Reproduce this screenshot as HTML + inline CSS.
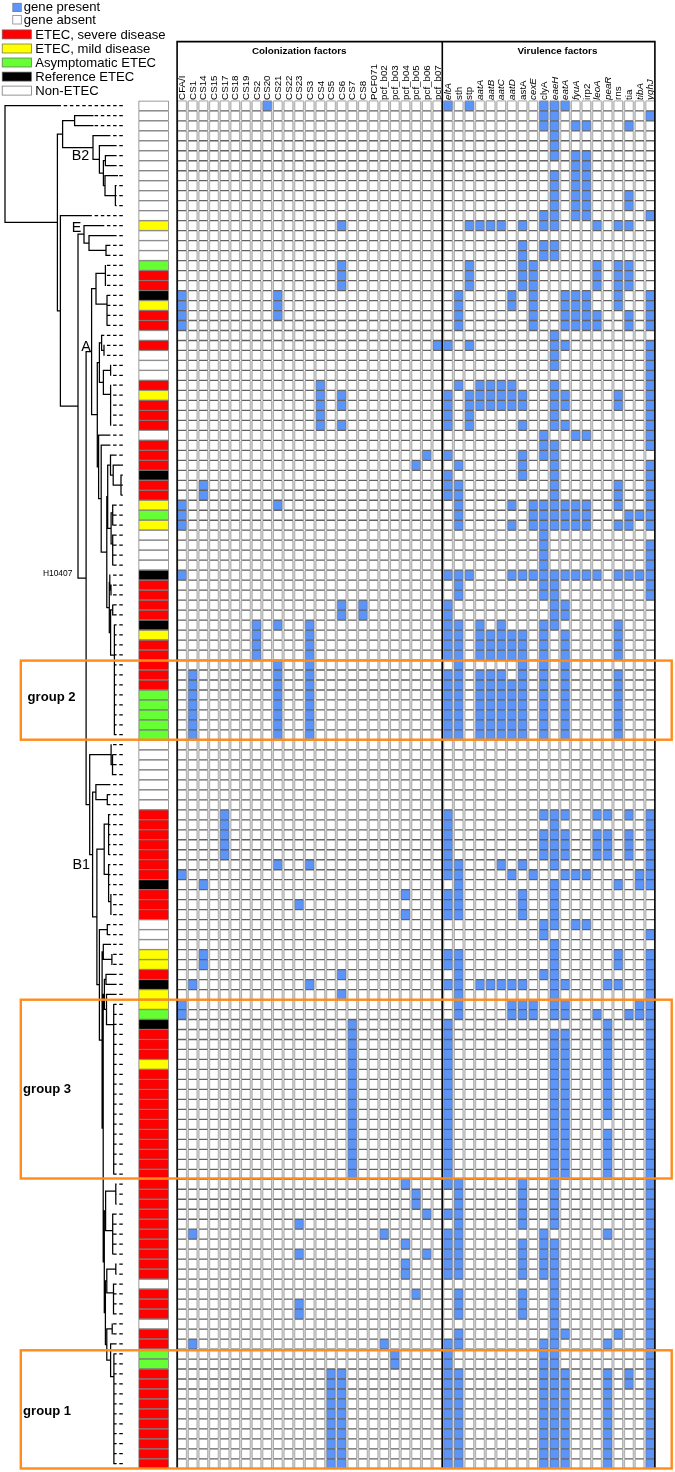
<!DOCTYPE html><html><head><meta charset="utf-8"><title>figure</title><style>html,body{margin:0;padding:0;background:#fff}svg{display:block}text{font-family:"Liberation Sans",sans-serif;fill:#000}</style></head><body>
<svg width="675" height="1472" viewBox="0 0 675 1472">
<rect width="675" height="1472" fill="#fff"/>
<rect x="12.8" y="3.2" width="8.5" height="8.5" fill="#5c95fa" stroke="#667" stroke-width="0.6"/>
<rect x="12.8" y="15.5" width="8.5" height="8.5" fill="#fff" stroke="#777" stroke-width="0.7"/>
<text x="23.8" y="11.2" font-size="13.1">gene present</text>
<text x="23.8" y="23.6" font-size="13.1">gene absent</text>
<rect x="2.2" y="29.9" width="29.2" height="9" fill="#ff0000" stroke="#666" stroke-width="0.7"/>
<text x="35.3" y="38.9" font-size="13.1">ETEC, severe disease</text>
<rect x="2.2" y="44.0" width="29.2" height="9" fill="#ffff00" stroke="#666" stroke-width="0.7"/>
<text x="35.3" y="53.0" font-size="13.1">ETEC, mild disease</text>
<rect x="2.2" y="58.0" width="29.2" height="9" fill="#66ff33" stroke="#666" stroke-width="0.7"/>
<text x="35.3" y="67.0" font-size="13.1">Asymptomatic ETEC</text>
<rect x="2.2" y="72.1" width="29.2" height="9" fill="#000000" stroke="#666" stroke-width="0.7"/>
<text x="35.3" y="81.1" font-size="13.1">Reference ETEC</text>
<rect x="2.2" y="86.1" width="29.2" height="9" fill="#ffffff" stroke="#666" stroke-width="0.7"/>
<text x="35.3" y="95.1" font-size="13.1">Non-ETEC</text>
<path d="M4.5 105.7H60.3M74.1 115.6H93.5M74.1 125.6H93.5M74.6 115.1V126.1M62.1 120.6H74.6M92.5 135.6H109.8M98.9 145.6H115.0M104.9 155.6H114.0M104.9 165.6H114.0M105.4 155.1V166.1M102.9 160.6H105.4M104.5 175.5H118.0M115.4 185.0V206.0M104.5 195.5H115.4M105.0 175.0V196.0M102.9 185.5H105.0M103.4 160.1V186.0M98.9 173.1H103.4M99.4 145.1V173.6M92.5 159.3H99.4M93.0 135.1V159.8M62.1 147.5H93.0M62.6 120.1V148.0M56.9 134.0H62.6M59.9 215.5H91.0M83.5 225.5H103.0M88.5 235.5H116.0M105.5 245.4H109.0M105.5 255.4H109.0M106.0 244.9V255.9M88.5 250.4H106.0M89.0 235.0V250.9M83.5 243.0H89.0M84.0 225.0V243.5M77.5 234.2H84.0M105.4 264.9V285.9M95.5 273.3H105.4M107.0 294.9V325.8M95.5 304.0H107.0M96.0 272.8V304.5M91.1 288.6H96.0M104.0 344.8V355.8M101.1 350.3H104.0M101.6 334.8V350.8M98.9 342.8H101.6M110.6 364.8V375.8M102.9 370.3H110.6M110.6 384.7V425.7M102.9 394.4H110.6M103.4 369.8V394.9M98.9 382.3H103.4M99.4 342.3V382.8M96.8 362.6H99.4M98.1 435.2H109.7M100.7 445.2H109.7M110.0 455.1H116.3M112.7 465.1H123.0M121.0 474.6V495.6M112.7 485.1H121.0M113.2 464.6V485.6M110.0 475.1H113.2M110.5 454.6V475.6M107.2 465.1H110.5M112.7 504.6V525.5M110.6 512.8H112.7M112.7 534.5V565.5M110.6 543.9H112.7M111.1 512.3V544.4M107.2 528.3H111.1M107.7 464.6V528.8M106.3 496.7H107.7M111.0 584.5V595.4M109.3 590.0H111.0M109.8 574.5V590.5M108.8 582.5H109.8M112.7 604.4V615.4M110.1 609.9H112.7M114.4 624.4V735.2M110.1 655.2H114.4M110.6 609.4V655.7M108.8 632.6H110.6M109.3 582.0V633.1M106.3 607.5H109.3M106.8 496.2V608.0M100.7 552.1H106.8M101.2 444.7V552.6M98.1 498.6H101.2M98.6 434.7V499.1M96.8 466.9H98.6M97.3 362.1V467.4M91.1 414.7H97.3M91.6 288.1V415.2M85.6 351.7H91.6M112.5 754.2V775.2M110.6 764.7H112.5M111.1 744.2V765.2M89.2 754.7H111.1M95.4 784.7H109.6M107.3 794.2V805.1M95.4 799.7H107.3M95.9 784.2V800.2M92.1 792.2H95.9M108.6 814.1V855.1M103.7 824.0H108.6M110.9 894.0V915.0M108.1 901.5H110.9M108.6 864.1V902.0M103.7 874.3H108.6M104.2 823.5V874.8M96.4 849.1H104.2M107.3 924.0V935.0M98.9 929.5H107.3M102.8 944.4H111.1M111.9 953.9V964.9M102.8 959.4H111.9M103.3 943.9V959.9M101.6 951.9H103.3M105.5 974.4H115.8M105.5 984.4H115.8M106.0 973.9V984.9M103.9 979.4H106.0M106.0 994.4H115.8M113.7 1003.9V1174.6M106.0 1024.5H113.7M106.5 993.9V1025.0M103.9 1009.4H106.5M104.4 978.9V1009.9M102.7 994.4H104.4M115.8 1183.6V1204.6M105.1 1191.1H115.8M112.7 1213.6V1254.5M105.1 1230.5H112.7M105.6 1190.6V1231.0M103.8 1210.8H105.6M115.8 1263.5V1274.5M106.3 1269.0H115.8M113.5 1283.5V1314.4M106.3 1292.8H113.5M106.8 1268.5V1293.3M104.9 1280.9H106.8M112.2 1323.4V1334.4M106.3 1328.9H112.2M110.1 1343.9H115.8M113.9 1353.4V1464.2M110.1 1376.5H113.9M110.6 1343.4V1377.0M106.3 1360.2H110.6M106.8 1328.4V1360.7M104.9 1344.5H106.8M105.4 1280.4V1345.0M103.8 1312.7H105.4M104.3 1210.3V1313.2M102.7 1261.8H104.3M103.2 993.9V1262.3M101.6 1128.1H103.2M102.1 951.4V1128.6M98.9 1040.0H102.1M99.4 929.0V1040.5M96.4 984.7H99.4M96.9 848.6V985.2M92.1 916.9H96.9M92.6 791.7V917.4M89.2 854.6H92.6M89.7 754.2V855.1M85.6 804.6H89.7M86.1 351.2V805.1M77.5 578.2H86.1M78.0 233.7V578.7M59.9 406.2H78.0M60.4 215.0V406.7M56.9 310.8H60.4M57.4 133.5V311.3M4.5 222.4H57.4M5.0 105.2V222.9M119.3 105.7H122.8M113.1 105.7H116.6M106.9 105.7H110.4M100.8 105.7H104.3M94.6 105.7H98.1M88.4 105.7H91.9M82.2 105.7H85.7M76.0 105.7H79.5M69.9 105.7H73.4M63.7 105.7H67.2M60.3 105.7H61.0M119.3 115.6H122.8M113.1 115.6H116.6M106.9 115.6H110.4M100.8 115.6H104.3M94.6 115.6H98.1M119.3 125.6H122.8M113.1 125.6H116.6M106.9 125.6H110.4M100.8 125.6H104.3M94.6 125.6H98.1M119.3 135.6H122.8M113.1 135.6H116.6M109.8 135.6H110.4M119.3 145.6H122.8M115.0 145.6H116.6M119.3 155.6H122.8M114.0 155.6H116.6M119.3 165.6H122.8M114.0 165.6H116.6M119.3 175.5H122.8M119.3 185.5H122.8M115.4 185.5H116.6M119.3 195.5H122.8M115.4 195.5H116.6M119.3 205.5H122.8M115.4 205.5H116.6M119.3 215.5H122.8M113.1 215.5H116.6M106.9 215.5H110.4M100.8 215.5H104.3M94.6 215.5H98.1M91.0 215.5H91.9M119.3 225.5H122.8M113.1 225.5H116.6M106.9 225.5H110.4M103.0 225.5H104.3M119.3 235.5H122.8M116.0 235.5H116.6M119.3 245.4H122.8M113.1 245.4H116.6M109.0 245.4H110.4M119.3 255.4H122.8M113.1 255.4H116.6M109.0 255.4H110.4M119.3 265.4H122.8M113.1 265.4H116.6M106.9 265.4H110.4M119.3 275.4H122.8M113.1 275.4H116.6M106.9 275.4H110.4M119.3 285.4H122.8M113.1 285.4H116.6M106.9 285.4H110.4M119.3 295.4H122.8M113.1 295.4H116.6M107.0 295.4H110.4M119.3 305.4H122.8M113.1 305.4H116.6M107.0 305.4H110.4M119.3 315.3H122.8M113.1 315.3H116.6M107.0 315.3H110.4M119.3 325.3H122.8M113.1 325.3H116.6M107.0 325.3H110.4M119.3 335.3H122.8M113.1 335.3H116.6M106.9 335.3H110.4M101.6 335.3H104.3M119.3 345.3H122.8M113.1 345.3H116.6M106.9 345.3H110.4M119.3 355.3H122.8M113.1 355.3H116.6M106.9 355.3H110.4M119.3 365.3H122.8M113.1 365.3H116.6M119.3 375.3H122.8M113.1 375.3H116.6M119.3 385.2H122.8M113.1 385.2H116.6M119.3 395.2H122.8M113.1 395.2H116.6M119.3 405.2H122.8M113.1 405.2H116.6M119.3 415.2H122.8M113.1 415.2H116.6M119.3 425.2H122.8M113.1 425.2H116.6M119.3 435.2H122.8M113.1 435.2H116.6M109.7 435.2H110.4M119.3 445.2H122.8M113.1 445.2H116.6M109.7 445.2H110.4M119.3 455.1H122.8M116.3 455.1H116.6M121.0 475.1H122.8M121.0 485.1H122.8M121.0 495.1H122.8M119.3 505.1H122.8M113.1 505.1H116.6M119.3 515.1H122.8M113.1 515.1H116.6M119.3 525.0H122.8M113.1 525.0H116.6M119.3 535.0H122.8M113.1 535.0H116.6M119.3 545.0H122.8M113.1 545.0H116.6M119.3 555.0H122.8M113.1 555.0H116.6M119.3 565.0H122.8M113.1 565.0H116.6M119.3 575.0H122.8M113.1 575.0H116.6M109.8 575.0H110.4M119.3 585.0H122.8M113.1 585.0H116.6M119.3 594.9H122.8M113.1 594.9H116.6M119.3 604.9H122.8M113.1 604.9H116.6M119.3 614.9H122.8M113.1 614.9H116.6M119.3 624.9H122.8M114.4 624.9H116.6M119.3 634.9H122.8M114.4 634.9H116.6M119.3 644.9H122.8M114.4 644.9H116.6M119.3 654.9H122.8M114.4 654.9H116.6M119.3 664.8H122.8M114.4 664.8H116.6M119.3 674.8H122.8M114.4 674.8H116.6M119.3 684.8H122.8M114.4 684.8H116.6M119.3 694.8H122.8M114.4 694.8H116.6M119.3 704.8H122.8M114.4 704.8H116.6M119.3 714.8H122.8M114.4 714.8H116.6M119.3 724.8H122.8M114.4 724.8H116.6M119.3 734.7H122.8M114.4 734.7H116.6M119.3 744.7H122.8M113.1 744.7H116.6M119.3 754.7H122.8M113.1 754.7H116.6M119.3 764.7H122.8M113.1 764.7H116.6M119.3 774.7H122.8M113.1 774.7H116.6M119.3 784.7H122.8M113.1 784.7H116.6M109.6 784.7H110.4M119.3 794.7H122.8M113.1 794.7H116.6M107.3 794.7H110.4M119.3 804.6H122.8M113.1 804.6H116.6M107.3 804.6H110.4M119.3 814.6H122.8M113.1 814.6H116.6M108.6 814.6H110.4M119.3 824.6H122.8M113.1 824.6H116.6M108.6 824.6H110.4M119.3 834.6H122.8M113.1 834.6H116.6M108.6 834.6H110.4M119.3 844.6H122.8M113.1 844.6H116.6M108.6 844.6H110.4M119.3 854.6H122.8M113.1 854.6H116.6M108.6 854.6H110.4M119.3 864.6H122.8M113.1 864.6H116.6M108.6 864.6H110.4M119.3 874.5H122.8M113.1 874.5H116.6M108.6 874.5H110.4M119.3 884.5H122.8M113.1 884.5H116.6M108.6 884.5H110.4M119.3 894.5H122.8M113.1 894.5H116.6M119.3 904.5H122.8M113.1 904.5H116.6M119.3 914.5H122.8M113.1 914.5H116.6M119.3 924.5H122.8M113.1 924.5H116.6M107.3 924.5H110.4M119.3 934.5H122.8M113.1 934.5H116.6M107.3 934.5H110.4M119.3 944.4H122.8M113.1 944.4H116.6M119.3 954.4H122.8M113.1 954.4H116.6M119.3 964.4H122.8M113.1 964.4H116.6M119.3 974.4H122.8M115.8 974.4H116.6M119.3 984.4H122.8M115.8 984.4H116.6M119.3 994.4H122.8M115.8 994.4H116.6M119.3 1004.4H122.8M113.7 1004.4H116.6M119.3 1014.3H122.8M113.7 1014.3H116.6M119.3 1024.3H122.8M113.7 1024.3H116.6M119.3 1034.3H122.8M113.7 1034.3H116.6M119.3 1044.3H122.8M113.7 1044.3H116.6M119.3 1054.3H122.8M113.7 1054.3H116.6M119.3 1064.3H122.8M113.7 1064.3H116.6M119.3 1074.3H122.8M113.7 1074.3H116.6M119.3 1084.2H122.8M113.7 1084.2H116.6M119.3 1094.2H122.8M113.7 1094.2H116.6M119.3 1104.2H122.8M113.7 1104.2H116.6M119.3 1114.2H122.8M113.7 1114.2H116.6M119.3 1124.2H122.8M113.7 1124.2H116.6M119.3 1134.2H122.8M113.7 1134.2H116.6M119.3 1144.2H122.8M113.7 1144.2H116.6M119.3 1154.1H122.8M113.7 1154.1H116.6M119.3 1164.1H122.8M113.7 1164.1H116.6M119.3 1174.1H122.8M113.7 1174.1H116.6M119.3 1184.1H122.8M115.8 1184.1H116.6M119.3 1194.1H122.8M115.8 1194.1H116.6M119.3 1204.1H122.8M115.8 1204.1H116.6M119.3 1214.1H122.8M113.1 1214.1H116.6M119.3 1224.0H122.8M113.1 1224.0H116.6M119.3 1234.0H122.8M113.1 1234.0H116.6M119.3 1244.0H122.8M113.1 1244.0H116.6M119.3 1254.0H122.8M113.1 1254.0H116.6M119.3 1264.0H122.8M115.8 1264.0H116.6M119.3 1274.0H122.8M115.8 1274.0H116.6M119.3 1284.0H122.8M113.5 1284.0H116.6M119.3 1293.9H122.8M113.5 1293.9H116.6M119.3 1303.9H122.8M113.5 1303.9H116.6M119.3 1313.9H122.8M113.5 1313.9H116.6M119.3 1323.9H122.8M113.1 1323.9H116.6M119.3 1333.9H122.8M113.1 1333.9H116.6M119.3 1343.9H122.8M115.8 1343.9H116.6M119.3 1353.9H122.8M113.9 1353.9H116.6M119.3 1363.8H122.8M113.9 1363.8H116.6M119.3 1373.8H122.8M113.9 1373.8H116.6M119.3 1383.8H122.8M113.9 1383.8H116.6M119.3 1393.8H122.8M113.9 1393.8H116.6M119.3 1403.8H122.8M113.9 1403.8H116.6M119.3 1413.8H122.8M113.9 1413.8H116.6M119.3 1423.8H122.8M113.9 1423.8H116.6M119.3 1433.7H122.8M113.9 1433.7H116.6M119.3 1443.7H122.8M113.9 1443.7H116.6M119.3 1453.7H122.8M113.9 1453.7H116.6M119.3 1463.7H122.8M113.9 1463.7H116.6" fill="none" stroke="#000" stroke-width="1.25"/>
<rect x="138.9" y="101.10" width="29.5" height="9.35" fill="#ffffff" stroke="#666" stroke-width="0.65"/>
<rect x="138.9" y="111.09" width="29.5" height="9.35" fill="#ffffff" stroke="#666" stroke-width="0.65"/>
<rect x="138.9" y="121.07" width="29.5" height="9.35" fill="#ffffff" stroke="#666" stroke-width="0.65"/>
<rect x="138.9" y="131.06" width="29.5" height="9.35" fill="#ffffff" stroke="#666" stroke-width="0.65"/>
<rect x="138.9" y="141.04" width="29.5" height="9.35" fill="#ffffff" stroke="#666" stroke-width="0.65"/>
<rect x="138.9" y="151.03" width="29.5" height="9.35" fill="#ffffff" stroke="#666" stroke-width="0.65"/>
<rect x="138.9" y="161.01" width="29.5" height="9.35" fill="#ffffff" stroke="#666" stroke-width="0.65"/>
<rect x="138.9" y="171.00" width="29.5" height="9.35" fill="#ffffff" stroke="#666" stroke-width="0.65"/>
<rect x="138.9" y="180.99" width="29.5" height="9.35" fill="#ffffff" stroke="#666" stroke-width="0.65"/>
<rect x="138.9" y="190.97" width="29.5" height="9.35" fill="#ffffff" stroke="#666" stroke-width="0.65"/>
<rect x="138.9" y="200.96" width="29.5" height="9.35" fill="#ffffff" stroke="#666" stroke-width="0.65"/>
<rect x="138.9" y="210.94" width="29.5" height="9.35" fill="#ffffff" stroke="#666" stroke-width="0.65"/>
<rect x="138.9" y="220.93" width="29.5" height="9.35" fill="#ffff00" stroke="#666" stroke-width="0.65"/>
<rect x="138.9" y="230.91" width="29.5" height="9.35" fill="#ffffff" stroke="#666" stroke-width="0.65"/>
<rect x="138.9" y="240.90" width="29.5" height="9.35" fill="#ffffff" stroke="#666" stroke-width="0.65"/>
<rect x="138.9" y="250.89" width="29.5" height="9.35" fill="#ffffff" stroke="#666" stroke-width="0.65"/>
<rect x="138.9" y="260.87" width="29.5" height="9.35" fill="#66ff33" stroke="#666" stroke-width="0.65"/>
<rect x="138.9" y="270.86" width="29.5" height="9.35" fill="#ff0000" stroke="#666" stroke-width="0.65"/>
<rect x="138.9" y="280.84" width="29.5" height="9.35" fill="#ff0000" stroke="#666" stroke-width="0.65"/>
<rect x="138.9" y="290.83" width="29.5" height="9.35" fill="#000000" stroke="#666" stroke-width="0.65"/>
<rect x="138.9" y="300.81" width="29.5" height="9.35" fill="#ffff00" stroke="#666" stroke-width="0.65"/>
<rect x="138.9" y="310.80" width="29.5" height="9.35" fill="#ff0000" stroke="#666" stroke-width="0.65"/>
<rect x="138.9" y="320.79" width="29.5" height="9.35" fill="#ff0000" stroke="#666" stroke-width="0.65"/>
<rect x="138.9" y="330.77" width="29.5" height="9.35" fill="#ffffff" stroke="#666" stroke-width="0.65"/>
<rect x="138.9" y="340.76" width="29.5" height="9.35" fill="#ff0000" stroke="#666" stroke-width="0.65"/>
<rect x="138.9" y="350.74" width="29.5" height="9.35" fill="#ffffff" stroke="#666" stroke-width="0.65"/>
<rect x="138.9" y="360.73" width="29.5" height="9.35" fill="#ffffff" stroke="#666" stroke-width="0.65"/>
<rect x="138.9" y="370.71" width="29.5" height="9.35" fill="#ffffff" stroke="#666" stroke-width="0.65"/>
<rect x="138.9" y="380.70" width="29.5" height="9.35" fill="#ff0000" stroke="#666" stroke-width="0.65"/>
<rect x="138.9" y="390.69" width="29.5" height="9.35" fill="#ffff00" stroke="#666" stroke-width="0.65"/>
<rect x="138.9" y="400.67" width="29.5" height="9.35" fill="#ff0000" stroke="#666" stroke-width="0.65"/>
<rect x="138.9" y="410.66" width="29.5" height="9.35" fill="#ff0000" stroke="#666" stroke-width="0.65"/>
<rect x="138.9" y="420.64" width="29.5" height="9.35" fill="#ff0000" stroke="#666" stroke-width="0.65"/>
<rect x="138.9" y="430.63" width="29.5" height="9.35" fill="#ffffff" stroke="#666" stroke-width="0.65"/>
<rect x="138.9" y="440.61" width="29.5" height="9.35" fill="#ff0000" stroke="#666" stroke-width="0.65"/>
<rect x="138.9" y="450.60" width="29.5" height="9.35" fill="#ff0000" stroke="#666" stroke-width="0.65"/>
<rect x="138.9" y="460.59" width="29.5" height="9.35" fill="#ff0000" stroke="#666" stroke-width="0.65"/>
<rect x="138.9" y="470.57" width="29.5" height="9.35" fill="#000000" stroke="#666" stroke-width="0.65"/>
<rect x="138.9" y="480.56" width="29.5" height="9.35" fill="#ff0000" stroke="#666" stroke-width="0.65"/>
<rect x="138.9" y="490.54" width="29.5" height="9.35" fill="#ff0000" stroke="#666" stroke-width="0.65"/>
<rect x="138.9" y="500.53" width="29.5" height="9.35" fill="#ffff00" stroke="#666" stroke-width="0.65"/>
<rect x="138.9" y="510.51" width="29.5" height="9.35" fill="#66ff33" stroke="#666" stroke-width="0.65"/>
<rect x="138.9" y="520.50" width="29.5" height="9.35" fill="#ffff00" stroke="#666" stroke-width="0.65"/>
<rect x="138.9" y="530.49" width="29.5" height="9.35" fill="#ffffff" stroke="#666" stroke-width="0.65"/>
<rect x="138.9" y="540.47" width="29.5" height="9.35" fill="#ffffff" stroke="#666" stroke-width="0.65"/>
<rect x="138.9" y="550.46" width="29.5" height="9.35" fill="#ffffff" stroke="#666" stroke-width="0.65"/>
<rect x="138.9" y="560.44" width="29.5" height="9.35" fill="#ffffff" stroke="#666" stroke-width="0.65"/>
<rect x="138.9" y="570.43" width="29.5" height="9.35" fill="#000000" stroke="#666" stroke-width="0.65"/>
<rect x="138.9" y="580.41" width="29.5" height="9.35" fill="#ff0000" stroke="#666" stroke-width="0.65"/>
<rect x="138.9" y="590.40" width="29.5" height="9.35" fill="#ff0000" stroke="#666" stroke-width="0.65"/>
<rect x="138.9" y="600.38" width="29.5" height="9.35" fill="#ff0000" stroke="#666" stroke-width="0.65"/>
<rect x="138.9" y="610.37" width="29.5" height="9.35" fill="#ff0000" stroke="#666" stroke-width="0.65"/>
<rect x="138.9" y="620.36" width="29.5" height="9.35" fill="#000000" stroke="#666" stroke-width="0.65"/>
<rect x="138.9" y="630.34" width="29.5" height="9.35" fill="#ffff00" stroke="#666" stroke-width="0.65"/>
<rect x="138.9" y="640.33" width="29.5" height="9.35" fill="#ff0000" stroke="#666" stroke-width="0.65"/>
<rect x="138.9" y="650.31" width="29.5" height="9.35" fill="#ff0000" stroke="#666" stroke-width="0.65"/>
<rect x="138.9" y="660.30" width="29.5" height="9.35" fill="#ff0000" stroke="#666" stroke-width="0.65"/>
<rect x="138.9" y="670.28" width="29.5" height="9.35" fill="#ff0000" stroke="#666" stroke-width="0.65"/>
<rect x="138.9" y="680.27" width="29.5" height="9.35" fill="#ff0000" stroke="#666" stroke-width="0.65"/>
<rect x="138.9" y="690.26" width="29.5" height="9.35" fill="#66ff33" stroke="#666" stroke-width="0.65"/>
<rect x="138.9" y="700.24" width="29.5" height="9.35" fill="#66ff33" stroke="#666" stroke-width="0.65"/>
<rect x="138.9" y="710.23" width="29.5" height="9.35" fill="#66ff33" stroke="#666" stroke-width="0.65"/>
<rect x="138.9" y="720.21" width="29.5" height="9.35" fill="#66ff33" stroke="#666" stroke-width="0.65"/>
<rect x="138.9" y="730.20" width="29.5" height="9.35" fill="#66ff33" stroke="#666" stroke-width="0.65"/>
<rect x="138.9" y="740.18" width="29.5" height="9.35" fill="#ffffff" stroke="#666" stroke-width="0.65"/>
<rect x="138.9" y="750.17" width="29.5" height="9.35" fill="#ffffff" stroke="#666" stroke-width="0.65"/>
<rect x="138.9" y="760.16" width="29.5" height="9.35" fill="#ffffff" stroke="#666" stroke-width="0.65"/>
<rect x="138.9" y="770.14" width="29.5" height="9.35" fill="#ffffff" stroke="#666" stroke-width="0.65"/>
<rect x="138.9" y="780.13" width="29.5" height="9.35" fill="#ffffff" stroke="#666" stroke-width="0.65"/>
<rect x="138.9" y="790.11" width="29.5" height="9.35" fill="#ffffff" stroke="#666" stroke-width="0.65"/>
<rect x="138.9" y="800.10" width="29.5" height="9.35" fill="#ffffff" stroke="#666" stroke-width="0.65"/>
<rect x="138.9" y="810.08" width="29.5" height="9.35" fill="#ff0000" stroke="#666" stroke-width="0.65"/>
<rect x="138.9" y="820.07" width="29.5" height="9.35" fill="#ff0000" stroke="#666" stroke-width="0.65"/>
<rect x="138.9" y="830.06" width="29.5" height="9.35" fill="#ff0000" stroke="#666" stroke-width="0.65"/>
<rect x="138.9" y="840.04" width="29.5" height="9.35" fill="#ff0000" stroke="#666" stroke-width="0.65"/>
<rect x="138.9" y="850.03" width="29.5" height="9.35" fill="#ff0000" stroke="#666" stroke-width="0.65"/>
<rect x="138.9" y="860.01" width="29.5" height="9.35" fill="#ff0000" stroke="#666" stroke-width="0.65"/>
<rect x="138.9" y="870.00" width="29.5" height="9.35" fill="#ff0000" stroke="#666" stroke-width="0.65"/>
<rect x="138.9" y="879.98" width="29.5" height="9.35" fill="#000000" stroke="#666" stroke-width="0.65"/>
<rect x="138.9" y="889.97" width="29.5" height="9.35" fill="#ff0000" stroke="#666" stroke-width="0.65"/>
<rect x="138.9" y="899.96" width="29.5" height="9.35" fill="#ff0000" stroke="#666" stroke-width="0.65"/>
<rect x="138.9" y="909.94" width="29.5" height="9.35" fill="#ff0000" stroke="#666" stroke-width="0.65"/>
<rect x="138.9" y="919.93" width="29.5" height="9.35" fill="#ffffff" stroke="#666" stroke-width="0.65"/>
<rect x="138.9" y="929.91" width="29.5" height="9.35" fill="#ffffff" stroke="#666" stroke-width="0.65"/>
<rect x="138.9" y="939.90" width="29.5" height="9.35" fill="#ffffff" stroke="#666" stroke-width="0.65"/>
<rect x="138.9" y="949.88" width="29.5" height="9.35" fill="#ffff00" stroke="#666" stroke-width="0.65"/>
<rect x="138.9" y="959.87" width="29.5" height="9.35" fill="#ffff00" stroke="#666" stroke-width="0.65"/>
<rect x="138.9" y="969.86" width="29.5" height="9.35" fill="#ff0000" stroke="#666" stroke-width="0.65"/>
<rect x="138.9" y="979.84" width="29.5" height="9.35" fill="#000000" stroke="#666" stroke-width="0.65"/>
<rect x="138.9" y="989.83" width="29.5" height="9.35" fill="#ffff00" stroke="#666" stroke-width="0.65"/>
<rect x="138.9" y="999.81" width="29.5" height="9.35" fill="#ffff00" stroke="#666" stroke-width="0.65"/>
<rect x="138.9" y="1009.80" width="29.5" height="9.35" fill="#66ff33" stroke="#666" stroke-width="0.65"/>
<rect x="138.9" y="1019.78" width="29.5" height="9.35" fill="#000000" stroke="#666" stroke-width="0.65"/>
<rect x="138.9" y="1029.77" width="29.5" height="9.35" fill="#ff0000" stroke="#666" stroke-width="0.65"/>
<rect x="138.9" y="1039.76" width="29.5" height="9.35" fill="#ff0000" stroke="#666" stroke-width="0.65"/>
<rect x="138.9" y="1049.74" width="29.5" height="9.35" fill="#ff0000" stroke="#666" stroke-width="0.65"/>
<rect x="138.9" y="1059.73" width="29.5" height="9.35" fill="#ffff00" stroke="#666" stroke-width="0.65"/>
<rect x="138.9" y="1069.71" width="29.5" height="9.35" fill="#ff0000" stroke="#666" stroke-width="0.65"/>
<rect x="138.9" y="1079.70" width="29.5" height="9.35" fill="#ff0000" stroke="#666" stroke-width="0.65"/>
<rect x="138.9" y="1089.68" width="29.5" height="9.35" fill="#ff0000" stroke="#666" stroke-width="0.65"/>
<rect x="138.9" y="1099.67" width="29.5" height="9.35" fill="#ff0000" stroke="#666" stroke-width="0.65"/>
<rect x="138.9" y="1109.66" width="29.5" height="9.35" fill="#ff0000" stroke="#666" stroke-width="0.65"/>
<rect x="138.9" y="1119.64" width="29.5" height="9.35" fill="#ff0000" stroke="#666" stroke-width="0.65"/>
<rect x="138.9" y="1129.63" width="29.5" height="9.35" fill="#ff0000" stroke="#666" stroke-width="0.65"/>
<rect x="138.9" y="1139.61" width="29.5" height="9.35" fill="#ff0000" stroke="#666" stroke-width="0.65"/>
<rect x="138.9" y="1149.60" width="29.5" height="9.35" fill="#ff0000" stroke="#666" stroke-width="0.65"/>
<rect x="138.9" y="1159.58" width="29.5" height="9.35" fill="#ff0000" stroke="#666" stroke-width="0.65"/>
<rect x="138.9" y="1169.57" width="29.5" height="9.35" fill="#ff0000" stroke="#666" stroke-width="0.65"/>
<rect x="138.9" y="1179.56" width="29.5" height="9.35" fill="#ff0000" stroke="#666" stroke-width="0.65"/>
<rect x="138.9" y="1189.54" width="29.5" height="9.35" fill="#ff0000" stroke="#666" stroke-width="0.65"/>
<rect x="138.9" y="1199.53" width="29.5" height="9.35" fill="#ff0000" stroke="#666" stroke-width="0.65"/>
<rect x="138.9" y="1209.51" width="29.5" height="9.35" fill="#ff0000" stroke="#666" stroke-width="0.65"/>
<rect x="138.9" y="1219.50" width="29.5" height="9.35" fill="#ff0000" stroke="#666" stroke-width="0.65"/>
<rect x="138.9" y="1229.48" width="29.5" height="9.35" fill="#ff0000" stroke="#666" stroke-width="0.65"/>
<rect x="138.9" y="1239.47" width="29.5" height="9.35" fill="#ff0000" stroke="#666" stroke-width="0.65"/>
<rect x="138.9" y="1249.46" width="29.5" height="9.35" fill="#ff0000" stroke="#666" stroke-width="0.65"/>
<rect x="138.9" y="1259.44" width="29.5" height="9.35" fill="#ff0000" stroke="#666" stroke-width="0.65"/>
<rect x="138.9" y="1269.43" width="29.5" height="9.35" fill="#ff0000" stroke="#666" stroke-width="0.65"/>
<rect x="138.9" y="1279.41" width="29.5" height="9.35" fill="#ffffff" stroke="#666" stroke-width="0.65"/>
<rect x="138.9" y="1289.40" width="29.5" height="9.35" fill="#ff0000" stroke="#666" stroke-width="0.65"/>
<rect x="138.9" y="1299.38" width="29.5" height="9.35" fill="#ff0000" stroke="#666" stroke-width="0.65"/>
<rect x="138.9" y="1309.37" width="29.5" height="9.35" fill="#ff0000" stroke="#666" stroke-width="0.65"/>
<rect x="138.9" y="1319.36" width="29.5" height="9.35" fill="#ffffff" stroke="#666" stroke-width="0.65"/>
<rect x="138.9" y="1329.34" width="29.5" height="9.35" fill="#ff0000" stroke="#666" stroke-width="0.65"/>
<rect x="138.9" y="1339.33" width="29.5" height="9.35" fill="#ff0000" stroke="#666" stroke-width="0.65"/>
<rect x="138.9" y="1349.31" width="29.5" height="9.35" fill="#66ff33" stroke="#666" stroke-width="0.65"/>
<rect x="138.9" y="1359.30" width="29.5" height="9.35" fill="#66ff33" stroke="#666" stroke-width="0.65"/>
<rect x="138.9" y="1369.28" width="29.5" height="9.35" fill="#ff0000" stroke="#666" stroke-width="0.65"/>
<rect x="138.9" y="1379.27" width="29.5" height="9.35" fill="#ff0000" stroke="#666" stroke-width="0.65"/>
<rect x="138.9" y="1389.26" width="29.5" height="9.35" fill="#ff0000" stroke="#666" stroke-width="0.65"/>
<rect x="138.9" y="1399.24" width="29.5" height="9.35" fill="#ff0000" stroke="#666" stroke-width="0.65"/>
<rect x="138.9" y="1409.23" width="29.5" height="9.35" fill="#ff0000" stroke="#666" stroke-width="0.65"/>
<rect x="138.9" y="1419.21" width="29.5" height="9.35" fill="#ff0000" stroke="#666" stroke-width="0.65"/>
<rect x="138.9" y="1429.20" width="29.5" height="9.35" fill="#ff0000" stroke="#666" stroke-width="0.65"/>
<rect x="138.9" y="1439.18" width="29.5" height="9.35" fill="#ff0000" stroke="#666" stroke-width="0.65"/>
<rect x="138.9" y="1449.17" width="29.5" height="9.35" fill="#ff0000" stroke="#666" stroke-width="0.65"/>
<rect x="138.9" y="1459.16" width="29.5" height="9.35" fill="#ff0000" stroke="#666" stroke-width="0.65"/>
<rect x="262.72" y="100.83" width="8.9" height="9.99" fill="#5c95fa"/>
<rect x="443.60" y="100.83" width="8.9" height="9.99" fill="#5c95fa"/>
<rect x="464.88" y="100.83" width="8.9" height="9.99" fill="#5c95fa"/>
<rect x="539.36" y="100.83" width="8.9" height="9.99" fill="#5c95fa"/>
<rect x="550.00" y="100.83" width="8.9" height="9.99" fill="#5c95fa"/>
<rect x="560.64" y="100.83" width="8.9" height="9.99" fill="#5c95fa"/>
<rect x="539.36" y="110.82" width="8.9" height="9.99" fill="#5c95fa"/>
<rect x="550.00" y="110.82" width="8.9" height="9.99" fill="#5c95fa"/>
<rect x="645.76" y="110.82" width="8.9" height="9.99" fill="#5c95fa"/>
<rect x="539.36" y="120.80" width="8.9" height="9.99" fill="#5c95fa"/>
<rect x="550.00" y="120.80" width="8.9" height="9.99" fill="#5c95fa"/>
<rect x="571.28" y="120.80" width="8.9" height="9.99" fill="#5c95fa"/>
<rect x="581.92" y="120.80" width="8.9" height="9.99" fill="#5c95fa"/>
<rect x="624.48" y="120.80" width="8.9" height="9.99" fill="#5c95fa"/>
<rect x="550.00" y="130.79" width="8.9" height="9.99" fill="#5c95fa"/>
<rect x="550.00" y="140.77" width="8.9" height="9.99" fill="#5c95fa"/>
<rect x="550.00" y="150.76" width="8.9" height="9.99" fill="#5c95fa"/>
<rect x="571.28" y="150.76" width="8.9" height="9.99" fill="#5c95fa"/>
<rect x="581.92" y="150.76" width="8.9" height="9.99" fill="#5c95fa"/>
<rect x="571.28" y="160.74" width="8.9" height="9.99" fill="#5c95fa"/>
<rect x="581.92" y="160.74" width="8.9" height="9.99" fill="#5c95fa"/>
<rect x="550.00" y="170.73" width="8.9" height="9.99" fill="#5c95fa"/>
<rect x="571.28" y="170.73" width="8.9" height="9.99" fill="#5c95fa"/>
<rect x="581.92" y="170.73" width="8.9" height="9.99" fill="#5c95fa"/>
<rect x="550.00" y="180.72" width="8.9" height="9.99" fill="#5c95fa"/>
<rect x="571.28" y="180.72" width="8.9" height="9.99" fill="#5c95fa"/>
<rect x="581.92" y="180.72" width="8.9" height="9.99" fill="#5c95fa"/>
<rect x="550.00" y="190.70" width="8.9" height="9.99" fill="#5c95fa"/>
<rect x="571.28" y="190.70" width="8.9" height="9.99" fill="#5c95fa"/>
<rect x="581.92" y="190.70" width="8.9" height="9.99" fill="#5c95fa"/>
<rect x="624.48" y="190.70" width="8.9" height="9.99" fill="#5c95fa"/>
<rect x="550.00" y="200.69" width="8.9" height="9.99" fill="#5c95fa"/>
<rect x="571.28" y="200.69" width="8.9" height="9.99" fill="#5c95fa"/>
<rect x="581.92" y="200.69" width="8.9" height="9.99" fill="#5c95fa"/>
<rect x="624.48" y="200.69" width="8.9" height="9.99" fill="#5c95fa"/>
<rect x="539.36" y="210.67" width="8.9" height="9.99" fill="#5c95fa"/>
<rect x="550.00" y="210.67" width="8.9" height="9.99" fill="#5c95fa"/>
<rect x="571.28" y="210.67" width="8.9" height="9.99" fill="#5c95fa"/>
<rect x="581.92" y="210.67" width="8.9" height="9.99" fill="#5c95fa"/>
<rect x="645.76" y="210.67" width="8.9" height="9.99" fill="#5c95fa"/>
<rect x="337.20" y="220.66" width="8.9" height="9.99" fill="#5c95fa"/>
<rect x="464.88" y="220.66" width="8.9" height="9.99" fill="#5c95fa"/>
<rect x="475.52" y="220.66" width="8.9" height="9.99" fill="#5c95fa"/>
<rect x="486.16" y="220.66" width="8.9" height="9.99" fill="#5c95fa"/>
<rect x="496.80" y="220.66" width="8.9" height="9.99" fill="#5c95fa"/>
<rect x="518.08" y="220.66" width="8.9" height="9.99" fill="#5c95fa"/>
<rect x="539.36" y="220.66" width="8.9" height="9.99" fill="#5c95fa"/>
<rect x="550.00" y="220.66" width="8.9" height="9.99" fill="#5c95fa"/>
<rect x="592.56" y="220.66" width="8.9" height="9.99" fill="#5c95fa"/>
<rect x="613.84" y="220.66" width="8.9" height="9.99" fill="#5c95fa"/>
<rect x="624.48" y="220.66" width="8.9" height="9.99" fill="#5c95fa"/>
<rect x="518.08" y="240.63" width="8.9" height="9.99" fill="#5c95fa"/>
<rect x="539.36" y="240.63" width="8.9" height="9.99" fill="#5c95fa"/>
<rect x="550.00" y="240.63" width="8.9" height="9.99" fill="#5c95fa"/>
<rect x="518.08" y="250.62" width="8.9" height="9.99" fill="#5c95fa"/>
<rect x="539.36" y="250.62" width="8.9" height="9.99" fill="#5c95fa"/>
<rect x="550.00" y="250.62" width="8.9" height="9.99" fill="#5c95fa"/>
<rect x="337.20" y="260.60" width="8.9" height="9.99" fill="#5c95fa"/>
<rect x="464.88" y="260.60" width="8.9" height="9.99" fill="#5c95fa"/>
<rect x="518.08" y="260.60" width="8.9" height="9.99" fill="#5c95fa"/>
<rect x="528.72" y="260.60" width="8.9" height="9.99" fill="#5c95fa"/>
<rect x="592.56" y="260.60" width="8.9" height="9.99" fill="#5c95fa"/>
<rect x="613.84" y="260.60" width="8.9" height="9.99" fill="#5c95fa"/>
<rect x="624.48" y="260.60" width="8.9" height="9.99" fill="#5c95fa"/>
<rect x="337.20" y="270.59" width="8.9" height="9.99" fill="#5c95fa"/>
<rect x="464.88" y="270.59" width="8.9" height="9.99" fill="#5c95fa"/>
<rect x="518.08" y="270.59" width="8.9" height="9.99" fill="#5c95fa"/>
<rect x="528.72" y="270.59" width="8.9" height="9.99" fill="#5c95fa"/>
<rect x="592.56" y="270.59" width="8.9" height="9.99" fill="#5c95fa"/>
<rect x="613.84" y="270.59" width="8.9" height="9.99" fill="#5c95fa"/>
<rect x="624.48" y="270.59" width="8.9" height="9.99" fill="#5c95fa"/>
<rect x="337.20" y="280.57" width="8.9" height="9.99" fill="#5c95fa"/>
<rect x="464.88" y="280.57" width="8.9" height="9.99" fill="#5c95fa"/>
<rect x="518.08" y="280.57" width="8.9" height="9.99" fill="#5c95fa"/>
<rect x="528.72" y="280.57" width="8.9" height="9.99" fill="#5c95fa"/>
<rect x="592.56" y="280.57" width="8.9" height="9.99" fill="#5c95fa"/>
<rect x="613.84" y="280.57" width="8.9" height="9.99" fill="#5c95fa"/>
<rect x="624.48" y="280.57" width="8.9" height="9.99" fill="#5c95fa"/>
<rect x="177.60" y="290.56" width="8.9" height="9.99" fill="#5c95fa"/>
<rect x="273.36" y="290.56" width="8.9" height="9.99" fill="#5c95fa"/>
<rect x="454.24" y="290.56" width="8.9" height="9.99" fill="#5c95fa"/>
<rect x="507.44" y="290.56" width="8.9" height="9.99" fill="#5c95fa"/>
<rect x="528.72" y="290.56" width="8.9" height="9.99" fill="#5c95fa"/>
<rect x="560.64" y="290.56" width="8.9" height="9.99" fill="#5c95fa"/>
<rect x="571.28" y="290.56" width="8.9" height="9.99" fill="#5c95fa"/>
<rect x="581.92" y="290.56" width="8.9" height="9.99" fill="#5c95fa"/>
<rect x="613.84" y="290.56" width="8.9" height="9.99" fill="#5c95fa"/>
<rect x="645.76" y="290.56" width="8.9" height="9.99" fill="#5c95fa"/>
<rect x="177.60" y="300.54" width="8.9" height="9.99" fill="#5c95fa"/>
<rect x="273.36" y="300.54" width="8.9" height="9.99" fill="#5c95fa"/>
<rect x="454.24" y="300.54" width="8.9" height="9.99" fill="#5c95fa"/>
<rect x="507.44" y="300.54" width="8.9" height="9.99" fill="#5c95fa"/>
<rect x="528.72" y="300.54" width="8.9" height="9.99" fill="#5c95fa"/>
<rect x="560.64" y="300.54" width="8.9" height="9.99" fill="#5c95fa"/>
<rect x="571.28" y="300.54" width="8.9" height="9.99" fill="#5c95fa"/>
<rect x="581.92" y="300.54" width="8.9" height="9.99" fill="#5c95fa"/>
<rect x="613.84" y="300.54" width="8.9" height="9.99" fill="#5c95fa"/>
<rect x="645.76" y="300.54" width="8.9" height="9.99" fill="#5c95fa"/>
<rect x="177.60" y="310.53" width="8.9" height="9.99" fill="#5c95fa"/>
<rect x="273.36" y="310.53" width="8.9" height="9.99" fill="#5c95fa"/>
<rect x="454.24" y="310.53" width="8.9" height="9.99" fill="#5c95fa"/>
<rect x="528.72" y="310.53" width="8.9" height="9.99" fill="#5c95fa"/>
<rect x="560.64" y="310.53" width="8.9" height="9.99" fill="#5c95fa"/>
<rect x="571.28" y="310.53" width="8.9" height="9.99" fill="#5c95fa"/>
<rect x="581.92" y="310.53" width="8.9" height="9.99" fill="#5c95fa"/>
<rect x="592.56" y="310.53" width="8.9" height="9.99" fill="#5c95fa"/>
<rect x="624.48" y="310.53" width="8.9" height="9.99" fill="#5c95fa"/>
<rect x="645.76" y="310.53" width="8.9" height="9.99" fill="#5c95fa"/>
<rect x="177.60" y="320.52" width="8.9" height="9.99" fill="#5c95fa"/>
<rect x="454.24" y="320.52" width="8.9" height="9.99" fill="#5c95fa"/>
<rect x="528.72" y="320.52" width="8.9" height="9.99" fill="#5c95fa"/>
<rect x="560.64" y="320.52" width="8.9" height="9.99" fill="#5c95fa"/>
<rect x="571.28" y="320.52" width="8.9" height="9.99" fill="#5c95fa"/>
<rect x="581.92" y="320.52" width="8.9" height="9.99" fill="#5c95fa"/>
<rect x="592.56" y="320.52" width="8.9" height="9.99" fill="#5c95fa"/>
<rect x="624.48" y="320.52" width="8.9" height="9.99" fill="#5c95fa"/>
<rect x="645.76" y="320.52" width="8.9" height="9.99" fill="#5c95fa"/>
<rect x="550.00" y="330.50" width="8.9" height="9.99" fill="#5c95fa"/>
<rect x="432.96" y="340.49" width="8.9" height="9.99" fill="#5c95fa"/>
<rect x="443.60" y="340.49" width="8.9" height="9.99" fill="#5c95fa"/>
<rect x="464.88" y="340.49" width="8.9" height="9.99" fill="#5c95fa"/>
<rect x="550.00" y="340.49" width="8.9" height="9.99" fill="#5c95fa"/>
<rect x="560.64" y="340.49" width="8.9" height="9.99" fill="#5c95fa"/>
<rect x="645.76" y="340.49" width="8.9" height="9.99" fill="#5c95fa"/>
<rect x="550.00" y="350.47" width="8.9" height="9.99" fill="#5c95fa"/>
<rect x="645.76" y="350.47" width="8.9" height="9.99" fill="#5c95fa"/>
<rect x="550.00" y="360.46" width="8.9" height="9.99" fill="#5c95fa"/>
<rect x="645.76" y="360.46" width="8.9" height="9.99" fill="#5c95fa"/>
<rect x="645.76" y="370.44" width="8.9" height="9.99" fill="#5c95fa"/>
<rect x="315.92" y="380.43" width="8.9" height="9.99" fill="#5c95fa"/>
<rect x="454.24" y="380.43" width="8.9" height="9.99" fill="#5c95fa"/>
<rect x="475.52" y="380.43" width="8.9" height="9.99" fill="#5c95fa"/>
<rect x="486.16" y="380.43" width="8.9" height="9.99" fill="#5c95fa"/>
<rect x="496.80" y="380.43" width="8.9" height="9.99" fill="#5c95fa"/>
<rect x="507.44" y="380.43" width="8.9" height="9.99" fill="#5c95fa"/>
<rect x="550.00" y="380.43" width="8.9" height="9.99" fill="#5c95fa"/>
<rect x="645.76" y="380.43" width="8.9" height="9.99" fill="#5c95fa"/>
<rect x="315.92" y="390.42" width="8.9" height="9.99" fill="#5c95fa"/>
<rect x="337.20" y="390.42" width="8.9" height="9.99" fill="#5c95fa"/>
<rect x="443.60" y="390.42" width="8.9" height="9.99" fill="#5c95fa"/>
<rect x="464.88" y="390.42" width="8.9" height="9.99" fill="#5c95fa"/>
<rect x="475.52" y="390.42" width="8.9" height="9.99" fill="#5c95fa"/>
<rect x="486.16" y="390.42" width="8.9" height="9.99" fill="#5c95fa"/>
<rect x="496.80" y="390.42" width="8.9" height="9.99" fill="#5c95fa"/>
<rect x="507.44" y="390.42" width="8.9" height="9.99" fill="#5c95fa"/>
<rect x="518.08" y="390.42" width="8.9" height="9.99" fill="#5c95fa"/>
<rect x="550.00" y="390.42" width="8.9" height="9.99" fill="#5c95fa"/>
<rect x="560.64" y="390.42" width="8.9" height="9.99" fill="#5c95fa"/>
<rect x="613.84" y="390.42" width="8.9" height="9.99" fill="#5c95fa"/>
<rect x="645.76" y="390.42" width="8.9" height="9.99" fill="#5c95fa"/>
<rect x="315.92" y="400.40" width="8.9" height="9.99" fill="#5c95fa"/>
<rect x="337.20" y="400.40" width="8.9" height="9.99" fill="#5c95fa"/>
<rect x="443.60" y="400.40" width="8.9" height="9.99" fill="#5c95fa"/>
<rect x="464.88" y="400.40" width="8.9" height="9.99" fill="#5c95fa"/>
<rect x="475.52" y="400.40" width="8.9" height="9.99" fill="#5c95fa"/>
<rect x="486.16" y="400.40" width="8.9" height="9.99" fill="#5c95fa"/>
<rect x="496.80" y="400.40" width="8.9" height="9.99" fill="#5c95fa"/>
<rect x="507.44" y="400.40" width="8.9" height="9.99" fill="#5c95fa"/>
<rect x="518.08" y="400.40" width="8.9" height="9.99" fill="#5c95fa"/>
<rect x="550.00" y="400.40" width="8.9" height="9.99" fill="#5c95fa"/>
<rect x="560.64" y="400.40" width="8.9" height="9.99" fill="#5c95fa"/>
<rect x="613.84" y="400.40" width="8.9" height="9.99" fill="#5c95fa"/>
<rect x="645.76" y="400.40" width="8.9" height="9.99" fill="#5c95fa"/>
<rect x="315.92" y="410.39" width="8.9" height="9.99" fill="#5c95fa"/>
<rect x="443.60" y="410.39" width="8.9" height="9.99" fill="#5c95fa"/>
<rect x="464.88" y="410.39" width="8.9" height="9.99" fill="#5c95fa"/>
<rect x="550.00" y="410.39" width="8.9" height="9.99" fill="#5c95fa"/>
<rect x="645.76" y="410.39" width="8.9" height="9.99" fill="#5c95fa"/>
<rect x="315.92" y="420.37" width="8.9" height="9.99" fill="#5c95fa"/>
<rect x="337.20" y="420.37" width="8.9" height="9.99" fill="#5c95fa"/>
<rect x="443.60" y="420.37" width="8.9" height="9.99" fill="#5c95fa"/>
<rect x="464.88" y="420.37" width="8.9" height="9.99" fill="#5c95fa"/>
<rect x="518.08" y="420.37" width="8.9" height="9.99" fill="#5c95fa"/>
<rect x="550.00" y="420.37" width="8.9" height="9.99" fill="#5c95fa"/>
<rect x="560.64" y="420.37" width="8.9" height="9.99" fill="#5c95fa"/>
<rect x="645.76" y="420.37" width="8.9" height="9.99" fill="#5c95fa"/>
<rect x="539.36" y="430.36" width="8.9" height="9.99" fill="#5c95fa"/>
<rect x="571.28" y="430.36" width="8.9" height="9.99" fill="#5c95fa"/>
<rect x="581.92" y="430.36" width="8.9" height="9.99" fill="#5c95fa"/>
<rect x="645.76" y="430.36" width="8.9" height="9.99" fill="#5c95fa"/>
<rect x="539.36" y="440.34" width="8.9" height="9.99" fill="#5c95fa"/>
<rect x="550.00" y="440.34" width="8.9" height="9.99" fill="#5c95fa"/>
<rect x="645.76" y="440.34" width="8.9" height="9.99" fill="#5c95fa"/>
<rect x="422.32" y="450.33" width="8.9" height="9.99" fill="#5c95fa"/>
<rect x="443.60" y="450.33" width="8.9" height="9.99" fill="#5c95fa"/>
<rect x="518.08" y="450.33" width="8.9" height="9.99" fill="#5c95fa"/>
<rect x="539.36" y="450.33" width="8.9" height="9.99" fill="#5c95fa"/>
<rect x="550.00" y="450.33" width="8.9" height="9.99" fill="#5c95fa"/>
<rect x="411.68" y="460.32" width="8.9" height="9.99" fill="#5c95fa"/>
<rect x="454.24" y="460.32" width="8.9" height="9.99" fill="#5c95fa"/>
<rect x="518.08" y="460.32" width="8.9" height="9.99" fill="#5c95fa"/>
<rect x="550.00" y="460.32" width="8.9" height="9.99" fill="#5c95fa"/>
<rect x="645.76" y="460.32" width="8.9" height="9.99" fill="#5c95fa"/>
<rect x="443.60" y="470.30" width="8.9" height="9.99" fill="#5c95fa"/>
<rect x="518.08" y="470.30" width="8.9" height="9.99" fill="#5c95fa"/>
<rect x="550.00" y="470.30" width="8.9" height="9.99" fill="#5c95fa"/>
<rect x="645.76" y="470.30" width="8.9" height="9.99" fill="#5c95fa"/>
<rect x="198.88" y="480.29" width="8.9" height="9.99" fill="#5c95fa"/>
<rect x="443.60" y="480.29" width="8.9" height="9.99" fill="#5c95fa"/>
<rect x="454.24" y="480.29" width="8.9" height="9.99" fill="#5c95fa"/>
<rect x="550.00" y="480.29" width="8.9" height="9.99" fill="#5c95fa"/>
<rect x="613.84" y="480.29" width="8.9" height="9.99" fill="#5c95fa"/>
<rect x="645.76" y="480.29" width="8.9" height="9.99" fill="#5c95fa"/>
<rect x="198.88" y="490.27" width="8.9" height="9.99" fill="#5c95fa"/>
<rect x="443.60" y="490.27" width="8.9" height="9.99" fill="#5c95fa"/>
<rect x="454.24" y="490.27" width="8.9" height="9.99" fill="#5c95fa"/>
<rect x="550.00" y="490.27" width="8.9" height="9.99" fill="#5c95fa"/>
<rect x="613.84" y="490.27" width="8.9" height="9.99" fill="#5c95fa"/>
<rect x="645.76" y="490.27" width="8.9" height="9.99" fill="#5c95fa"/>
<rect x="177.60" y="500.26" width="8.9" height="9.99" fill="#5c95fa"/>
<rect x="273.36" y="500.26" width="8.9" height="9.99" fill="#5c95fa"/>
<rect x="454.24" y="500.26" width="8.9" height="9.99" fill="#5c95fa"/>
<rect x="507.44" y="500.26" width="8.9" height="9.99" fill="#5c95fa"/>
<rect x="528.72" y="500.26" width="8.9" height="9.99" fill="#5c95fa"/>
<rect x="539.36" y="500.26" width="8.9" height="9.99" fill="#5c95fa"/>
<rect x="550.00" y="500.26" width="8.9" height="9.99" fill="#5c95fa"/>
<rect x="560.64" y="500.26" width="8.9" height="9.99" fill="#5c95fa"/>
<rect x="571.28" y="500.26" width="8.9" height="9.99" fill="#5c95fa"/>
<rect x="581.92" y="500.26" width="8.9" height="9.99" fill="#5c95fa"/>
<rect x="613.84" y="500.26" width="8.9" height="9.99" fill="#5c95fa"/>
<rect x="645.76" y="500.26" width="8.9" height="9.99" fill="#5c95fa"/>
<rect x="177.60" y="510.24" width="8.9" height="9.99" fill="#5c95fa"/>
<rect x="454.24" y="510.24" width="8.9" height="9.99" fill="#5c95fa"/>
<rect x="528.72" y="510.24" width="8.9" height="9.99" fill="#5c95fa"/>
<rect x="539.36" y="510.24" width="8.9" height="9.99" fill="#5c95fa"/>
<rect x="550.00" y="510.24" width="8.9" height="9.99" fill="#5c95fa"/>
<rect x="560.64" y="510.24" width="8.9" height="9.99" fill="#5c95fa"/>
<rect x="571.28" y="510.24" width="8.9" height="9.99" fill="#5c95fa"/>
<rect x="581.92" y="510.24" width="8.9" height="9.99" fill="#5c95fa"/>
<rect x="624.48" y="510.24" width="8.9" height="9.99" fill="#5c95fa"/>
<rect x="635.12" y="510.24" width="8.9" height="9.99" fill="#5c95fa"/>
<rect x="645.76" y="510.24" width="8.9" height="9.99" fill="#5c95fa"/>
<rect x="177.60" y="520.23" width="8.9" height="9.99" fill="#5c95fa"/>
<rect x="454.24" y="520.23" width="8.9" height="9.99" fill="#5c95fa"/>
<rect x="507.44" y="520.23" width="8.9" height="9.99" fill="#5c95fa"/>
<rect x="528.72" y="520.23" width="8.9" height="9.99" fill="#5c95fa"/>
<rect x="539.36" y="520.23" width="8.9" height="9.99" fill="#5c95fa"/>
<rect x="550.00" y="520.23" width="8.9" height="9.99" fill="#5c95fa"/>
<rect x="560.64" y="520.23" width="8.9" height="9.99" fill="#5c95fa"/>
<rect x="571.28" y="520.23" width="8.9" height="9.99" fill="#5c95fa"/>
<rect x="581.92" y="520.23" width="8.9" height="9.99" fill="#5c95fa"/>
<rect x="613.84" y="520.23" width="8.9" height="9.99" fill="#5c95fa"/>
<rect x="624.48" y="520.23" width="8.9" height="9.99" fill="#5c95fa"/>
<rect x="645.76" y="520.23" width="8.9" height="9.99" fill="#5c95fa"/>
<rect x="539.36" y="530.22" width="8.9" height="9.99" fill="#5c95fa"/>
<rect x="539.36" y="540.20" width="8.9" height="9.99" fill="#5c95fa"/>
<rect x="645.76" y="540.20" width="8.9" height="9.99" fill="#5c95fa"/>
<rect x="539.36" y="550.19" width="8.9" height="9.99" fill="#5c95fa"/>
<rect x="645.76" y="550.19" width="8.9" height="9.99" fill="#5c95fa"/>
<rect x="539.36" y="560.17" width="8.9" height="9.99" fill="#5c95fa"/>
<rect x="645.76" y="560.17" width="8.9" height="9.99" fill="#5c95fa"/>
<rect x="177.60" y="570.16" width="8.9" height="9.99" fill="#5c95fa"/>
<rect x="443.60" y="570.16" width="8.9" height="9.99" fill="#5c95fa"/>
<rect x="454.24" y="570.16" width="8.9" height="9.99" fill="#5c95fa"/>
<rect x="464.88" y="570.16" width="8.9" height="9.99" fill="#5c95fa"/>
<rect x="507.44" y="570.16" width="8.9" height="9.99" fill="#5c95fa"/>
<rect x="518.08" y="570.16" width="8.9" height="9.99" fill="#5c95fa"/>
<rect x="528.72" y="570.16" width="8.9" height="9.99" fill="#5c95fa"/>
<rect x="539.36" y="570.16" width="8.9" height="9.99" fill="#5c95fa"/>
<rect x="550.00" y="570.16" width="8.9" height="9.99" fill="#5c95fa"/>
<rect x="560.64" y="570.16" width="8.9" height="9.99" fill="#5c95fa"/>
<rect x="571.28" y="570.16" width="8.9" height="9.99" fill="#5c95fa"/>
<rect x="581.92" y="570.16" width="8.9" height="9.99" fill="#5c95fa"/>
<rect x="592.56" y="570.16" width="8.9" height="9.99" fill="#5c95fa"/>
<rect x="613.84" y="570.16" width="8.9" height="9.99" fill="#5c95fa"/>
<rect x="624.48" y="570.16" width="8.9" height="9.99" fill="#5c95fa"/>
<rect x="635.12" y="570.16" width="8.9" height="9.99" fill="#5c95fa"/>
<rect x="645.76" y="570.16" width="8.9" height="9.99" fill="#5c95fa"/>
<rect x="454.24" y="580.14" width="8.9" height="9.99" fill="#5c95fa"/>
<rect x="539.36" y="580.14" width="8.9" height="9.99" fill="#5c95fa"/>
<rect x="550.00" y="580.14" width="8.9" height="9.99" fill="#5c95fa"/>
<rect x="645.76" y="580.14" width="8.9" height="9.99" fill="#5c95fa"/>
<rect x="454.24" y="590.13" width="8.9" height="9.99" fill="#5c95fa"/>
<rect x="539.36" y="590.13" width="8.9" height="9.99" fill="#5c95fa"/>
<rect x="550.00" y="590.13" width="8.9" height="9.99" fill="#5c95fa"/>
<rect x="645.76" y="590.13" width="8.9" height="9.99" fill="#5c95fa"/>
<rect x="337.20" y="600.12" width="8.9" height="9.99" fill="#5c95fa"/>
<rect x="358.48" y="600.12" width="8.9" height="9.99" fill="#5c95fa"/>
<rect x="443.60" y="600.12" width="8.9" height="9.99" fill="#5c95fa"/>
<rect x="550.00" y="600.12" width="8.9" height="9.99" fill="#5c95fa"/>
<rect x="560.64" y="600.12" width="8.9" height="9.99" fill="#5c95fa"/>
<rect x="337.20" y="610.10" width="8.9" height="9.99" fill="#5c95fa"/>
<rect x="358.48" y="610.10" width="8.9" height="9.99" fill="#5c95fa"/>
<rect x="443.60" y="610.10" width="8.9" height="9.99" fill="#5c95fa"/>
<rect x="550.00" y="610.10" width="8.9" height="9.99" fill="#5c95fa"/>
<rect x="560.64" y="610.10" width="8.9" height="9.99" fill="#5c95fa"/>
<rect x="252.08" y="620.09" width="8.9" height="9.99" fill="#5c95fa"/>
<rect x="273.36" y="620.09" width="8.9" height="9.99" fill="#5c95fa"/>
<rect x="305.28" y="620.09" width="8.9" height="9.99" fill="#5c95fa"/>
<rect x="443.60" y="620.09" width="8.9" height="9.99" fill="#5c95fa"/>
<rect x="454.24" y="620.09" width="8.9" height="9.99" fill="#5c95fa"/>
<rect x="475.52" y="620.09" width="8.9" height="9.99" fill="#5c95fa"/>
<rect x="496.80" y="620.09" width="8.9" height="9.99" fill="#5c95fa"/>
<rect x="539.36" y="620.09" width="8.9" height="9.99" fill="#5c95fa"/>
<rect x="550.00" y="620.09" width="8.9" height="9.99" fill="#5c95fa"/>
<rect x="613.84" y="620.09" width="8.9" height="9.99" fill="#5c95fa"/>
<rect x="252.08" y="630.07" width="8.9" height="9.99" fill="#5c95fa"/>
<rect x="305.28" y="630.07" width="8.9" height="9.99" fill="#5c95fa"/>
<rect x="443.60" y="630.07" width="8.9" height="9.99" fill="#5c95fa"/>
<rect x="454.24" y="630.07" width="8.9" height="9.99" fill="#5c95fa"/>
<rect x="475.52" y="630.07" width="8.9" height="9.99" fill="#5c95fa"/>
<rect x="486.16" y="630.07" width="8.9" height="9.99" fill="#5c95fa"/>
<rect x="496.80" y="630.07" width="8.9" height="9.99" fill="#5c95fa"/>
<rect x="507.44" y="630.07" width="8.9" height="9.99" fill="#5c95fa"/>
<rect x="518.08" y="630.07" width="8.9" height="9.99" fill="#5c95fa"/>
<rect x="539.36" y="630.07" width="8.9" height="9.99" fill="#5c95fa"/>
<rect x="560.64" y="630.07" width="8.9" height="9.99" fill="#5c95fa"/>
<rect x="613.84" y="630.07" width="8.9" height="9.99" fill="#5c95fa"/>
<rect x="252.08" y="640.06" width="8.9" height="9.99" fill="#5c95fa"/>
<rect x="305.28" y="640.06" width="8.9" height="9.99" fill="#5c95fa"/>
<rect x="443.60" y="640.06" width="8.9" height="9.99" fill="#5c95fa"/>
<rect x="454.24" y="640.06" width="8.9" height="9.99" fill="#5c95fa"/>
<rect x="475.52" y="640.06" width="8.9" height="9.99" fill="#5c95fa"/>
<rect x="486.16" y="640.06" width="8.9" height="9.99" fill="#5c95fa"/>
<rect x="496.80" y="640.06" width="8.9" height="9.99" fill="#5c95fa"/>
<rect x="507.44" y="640.06" width="8.9" height="9.99" fill="#5c95fa"/>
<rect x="518.08" y="640.06" width="8.9" height="9.99" fill="#5c95fa"/>
<rect x="539.36" y="640.06" width="8.9" height="9.99" fill="#5c95fa"/>
<rect x="560.64" y="640.06" width="8.9" height="9.99" fill="#5c95fa"/>
<rect x="613.84" y="640.06" width="8.9" height="9.99" fill="#5c95fa"/>
<rect x="252.08" y="650.04" width="8.9" height="9.99" fill="#5c95fa"/>
<rect x="305.28" y="650.04" width="8.9" height="9.99" fill="#5c95fa"/>
<rect x="443.60" y="650.04" width="8.9" height="9.99" fill="#5c95fa"/>
<rect x="454.24" y="650.04" width="8.9" height="9.99" fill="#5c95fa"/>
<rect x="475.52" y="650.04" width="8.9" height="9.99" fill="#5c95fa"/>
<rect x="486.16" y="650.04" width="8.9" height="9.99" fill="#5c95fa"/>
<rect x="496.80" y="650.04" width="8.9" height="9.99" fill="#5c95fa"/>
<rect x="507.44" y="650.04" width="8.9" height="9.99" fill="#5c95fa"/>
<rect x="518.08" y="650.04" width="8.9" height="9.99" fill="#5c95fa"/>
<rect x="539.36" y="650.04" width="8.9" height="9.99" fill="#5c95fa"/>
<rect x="560.64" y="650.04" width="8.9" height="9.99" fill="#5c95fa"/>
<rect x="613.84" y="650.04" width="8.9" height="9.99" fill="#5c95fa"/>
<rect x="273.36" y="660.03" width="8.9" height="9.99" fill="#5c95fa"/>
<rect x="305.28" y="660.03" width="8.9" height="9.99" fill="#5c95fa"/>
<rect x="454.24" y="660.03" width="8.9" height="9.99" fill="#5c95fa"/>
<rect x="518.08" y="660.03" width="8.9" height="9.99" fill="#5c95fa"/>
<rect x="539.36" y="660.03" width="8.9" height="9.99" fill="#5c95fa"/>
<rect x="560.64" y="660.03" width="8.9" height="9.99" fill="#5c95fa"/>
<rect x="188.24" y="670.01" width="8.9" height="9.99" fill="#5c95fa"/>
<rect x="273.36" y="670.01" width="8.9" height="9.99" fill="#5c95fa"/>
<rect x="305.28" y="670.01" width="8.9" height="9.99" fill="#5c95fa"/>
<rect x="443.60" y="670.01" width="8.9" height="9.99" fill="#5c95fa"/>
<rect x="454.24" y="670.01" width="8.9" height="9.99" fill="#5c95fa"/>
<rect x="475.52" y="670.01" width="8.9" height="9.99" fill="#5c95fa"/>
<rect x="486.16" y="670.01" width="8.9" height="9.99" fill="#5c95fa"/>
<rect x="496.80" y="670.01" width="8.9" height="9.99" fill="#5c95fa"/>
<rect x="518.08" y="670.01" width="8.9" height="9.99" fill="#5c95fa"/>
<rect x="539.36" y="670.01" width="8.9" height="9.99" fill="#5c95fa"/>
<rect x="560.64" y="670.01" width="8.9" height="9.99" fill="#5c95fa"/>
<rect x="613.84" y="670.01" width="8.9" height="9.99" fill="#5c95fa"/>
<rect x="188.24" y="680.00" width="8.9" height="9.99" fill="#5c95fa"/>
<rect x="273.36" y="680.00" width="8.9" height="9.99" fill="#5c95fa"/>
<rect x="305.28" y="680.00" width="8.9" height="9.99" fill="#5c95fa"/>
<rect x="443.60" y="680.00" width="8.9" height="9.99" fill="#5c95fa"/>
<rect x="454.24" y="680.00" width="8.9" height="9.99" fill="#5c95fa"/>
<rect x="475.52" y="680.00" width="8.9" height="9.99" fill="#5c95fa"/>
<rect x="486.16" y="680.00" width="8.9" height="9.99" fill="#5c95fa"/>
<rect x="496.80" y="680.00" width="8.9" height="9.99" fill="#5c95fa"/>
<rect x="507.44" y="680.00" width="8.9" height="9.99" fill="#5c95fa"/>
<rect x="518.08" y="680.00" width="8.9" height="9.99" fill="#5c95fa"/>
<rect x="539.36" y="680.00" width="8.9" height="9.99" fill="#5c95fa"/>
<rect x="560.64" y="680.00" width="8.9" height="9.99" fill="#5c95fa"/>
<rect x="613.84" y="680.00" width="8.9" height="9.99" fill="#5c95fa"/>
<rect x="188.24" y="689.99" width="8.9" height="9.99" fill="#5c95fa"/>
<rect x="273.36" y="689.99" width="8.9" height="9.99" fill="#5c95fa"/>
<rect x="305.28" y="689.99" width="8.9" height="9.99" fill="#5c95fa"/>
<rect x="443.60" y="689.99" width="8.9" height="9.99" fill="#5c95fa"/>
<rect x="454.24" y="689.99" width="8.9" height="9.99" fill="#5c95fa"/>
<rect x="475.52" y="689.99" width="8.9" height="9.99" fill="#5c95fa"/>
<rect x="486.16" y="689.99" width="8.9" height="9.99" fill="#5c95fa"/>
<rect x="496.80" y="689.99" width="8.9" height="9.99" fill="#5c95fa"/>
<rect x="507.44" y="689.99" width="8.9" height="9.99" fill="#5c95fa"/>
<rect x="518.08" y="689.99" width="8.9" height="9.99" fill="#5c95fa"/>
<rect x="539.36" y="689.99" width="8.9" height="9.99" fill="#5c95fa"/>
<rect x="560.64" y="689.99" width="8.9" height="9.99" fill="#5c95fa"/>
<rect x="613.84" y="689.99" width="8.9" height="9.99" fill="#5c95fa"/>
<rect x="188.24" y="699.97" width="8.9" height="9.99" fill="#5c95fa"/>
<rect x="273.36" y="699.97" width="8.9" height="9.99" fill="#5c95fa"/>
<rect x="305.28" y="699.97" width="8.9" height="9.99" fill="#5c95fa"/>
<rect x="443.60" y="699.97" width="8.9" height="9.99" fill="#5c95fa"/>
<rect x="454.24" y="699.97" width="8.9" height="9.99" fill="#5c95fa"/>
<rect x="475.52" y="699.97" width="8.9" height="9.99" fill="#5c95fa"/>
<rect x="486.16" y="699.97" width="8.9" height="9.99" fill="#5c95fa"/>
<rect x="496.80" y="699.97" width="8.9" height="9.99" fill="#5c95fa"/>
<rect x="507.44" y="699.97" width="8.9" height="9.99" fill="#5c95fa"/>
<rect x="518.08" y="699.97" width="8.9" height="9.99" fill="#5c95fa"/>
<rect x="539.36" y="699.97" width="8.9" height="9.99" fill="#5c95fa"/>
<rect x="560.64" y="699.97" width="8.9" height="9.99" fill="#5c95fa"/>
<rect x="613.84" y="699.97" width="8.9" height="9.99" fill="#5c95fa"/>
<rect x="188.24" y="709.96" width="8.9" height="9.99" fill="#5c95fa"/>
<rect x="273.36" y="709.96" width="8.9" height="9.99" fill="#5c95fa"/>
<rect x="305.28" y="709.96" width="8.9" height="9.99" fill="#5c95fa"/>
<rect x="443.60" y="709.96" width="8.9" height="9.99" fill="#5c95fa"/>
<rect x="454.24" y="709.96" width="8.9" height="9.99" fill="#5c95fa"/>
<rect x="475.52" y="709.96" width="8.9" height="9.99" fill="#5c95fa"/>
<rect x="486.16" y="709.96" width="8.9" height="9.99" fill="#5c95fa"/>
<rect x="496.80" y="709.96" width="8.9" height="9.99" fill="#5c95fa"/>
<rect x="507.44" y="709.96" width="8.9" height="9.99" fill="#5c95fa"/>
<rect x="518.08" y="709.96" width="8.9" height="9.99" fill="#5c95fa"/>
<rect x="539.36" y="709.96" width="8.9" height="9.99" fill="#5c95fa"/>
<rect x="560.64" y="709.96" width="8.9" height="9.99" fill="#5c95fa"/>
<rect x="613.84" y="709.96" width="8.9" height="9.99" fill="#5c95fa"/>
<rect x="188.24" y="719.94" width="8.9" height="9.99" fill="#5c95fa"/>
<rect x="273.36" y="719.94" width="8.9" height="9.99" fill="#5c95fa"/>
<rect x="305.28" y="719.94" width="8.9" height="9.99" fill="#5c95fa"/>
<rect x="443.60" y="719.94" width="8.9" height="9.99" fill="#5c95fa"/>
<rect x="454.24" y="719.94" width="8.9" height="9.99" fill="#5c95fa"/>
<rect x="475.52" y="719.94" width="8.9" height="9.99" fill="#5c95fa"/>
<rect x="486.16" y="719.94" width="8.9" height="9.99" fill="#5c95fa"/>
<rect x="496.80" y="719.94" width="8.9" height="9.99" fill="#5c95fa"/>
<rect x="507.44" y="719.94" width="8.9" height="9.99" fill="#5c95fa"/>
<rect x="518.08" y="719.94" width="8.9" height="9.99" fill="#5c95fa"/>
<rect x="539.36" y="719.94" width="8.9" height="9.99" fill="#5c95fa"/>
<rect x="560.64" y="719.94" width="8.9" height="9.99" fill="#5c95fa"/>
<rect x="613.84" y="719.94" width="8.9" height="9.99" fill="#5c95fa"/>
<rect x="188.24" y="729.93" width="8.9" height="9.99" fill="#5c95fa"/>
<rect x="273.36" y="729.93" width="8.9" height="9.99" fill="#5c95fa"/>
<rect x="305.28" y="729.93" width="8.9" height="9.99" fill="#5c95fa"/>
<rect x="443.60" y="729.93" width="8.9" height="9.99" fill="#5c95fa"/>
<rect x="454.24" y="729.93" width="8.9" height="9.99" fill="#5c95fa"/>
<rect x="475.52" y="729.93" width="8.9" height="9.99" fill="#5c95fa"/>
<rect x="486.16" y="729.93" width="8.9" height="9.99" fill="#5c95fa"/>
<rect x="496.80" y="729.93" width="8.9" height="9.99" fill="#5c95fa"/>
<rect x="507.44" y="729.93" width="8.9" height="9.99" fill="#5c95fa"/>
<rect x="518.08" y="729.93" width="8.9" height="9.99" fill="#5c95fa"/>
<rect x="539.36" y="729.93" width="8.9" height="9.99" fill="#5c95fa"/>
<rect x="560.64" y="729.93" width="8.9" height="9.99" fill="#5c95fa"/>
<rect x="613.84" y="729.93" width="8.9" height="9.99" fill="#5c95fa"/>
<rect x="220.16" y="809.81" width="8.9" height="9.99" fill="#5c95fa"/>
<rect x="443.60" y="809.81" width="8.9" height="9.99" fill="#5c95fa"/>
<rect x="539.36" y="809.81" width="8.9" height="9.99" fill="#5c95fa"/>
<rect x="550.00" y="809.81" width="8.9" height="9.99" fill="#5c95fa"/>
<rect x="560.64" y="809.81" width="8.9" height="9.99" fill="#5c95fa"/>
<rect x="592.56" y="809.81" width="8.9" height="9.99" fill="#5c95fa"/>
<rect x="603.20" y="809.81" width="8.9" height="9.99" fill="#5c95fa"/>
<rect x="624.48" y="809.81" width="8.9" height="9.99" fill="#5c95fa"/>
<rect x="645.76" y="809.81" width="8.9" height="9.99" fill="#5c95fa"/>
<rect x="220.16" y="819.80" width="8.9" height="9.99" fill="#5c95fa"/>
<rect x="443.60" y="819.80" width="8.9" height="9.99" fill="#5c95fa"/>
<rect x="550.00" y="819.80" width="8.9" height="9.99" fill="#5c95fa"/>
<rect x="645.76" y="819.80" width="8.9" height="9.99" fill="#5c95fa"/>
<rect x="220.16" y="829.79" width="8.9" height="9.99" fill="#5c95fa"/>
<rect x="443.60" y="829.79" width="8.9" height="9.99" fill="#5c95fa"/>
<rect x="539.36" y="829.79" width="8.9" height="9.99" fill="#5c95fa"/>
<rect x="550.00" y="829.79" width="8.9" height="9.99" fill="#5c95fa"/>
<rect x="560.64" y="829.79" width="8.9" height="9.99" fill="#5c95fa"/>
<rect x="592.56" y="829.79" width="8.9" height="9.99" fill="#5c95fa"/>
<rect x="603.20" y="829.79" width="8.9" height="9.99" fill="#5c95fa"/>
<rect x="624.48" y="829.79" width="8.9" height="9.99" fill="#5c95fa"/>
<rect x="645.76" y="829.79" width="8.9" height="9.99" fill="#5c95fa"/>
<rect x="220.16" y="839.77" width="8.9" height="9.99" fill="#5c95fa"/>
<rect x="443.60" y="839.77" width="8.9" height="9.99" fill="#5c95fa"/>
<rect x="539.36" y="839.77" width="8.9" height="9.99" fill="#5c95fa"/>
<rect x="550.00" y="839.77" width="8.9" height="9.99" fill="#5c95fa"/>
<rect x="560.64" y="839.77" width="8.9" height="9.99" fill="#5c95fa"/>
<rect x="592.56" y="839.77" width="8.9" height="9.99" fill="#5c95fa"/>
<rect x="603.20" y="839.77" width="8.9" height="9.99" fill="#5c95fa"/>
<rect x="624.48" y="839.77" width="8.9" height="9.99" fill="#5c95fa"/>
<rect x="645.76" y="839.77" width="8.9" height="9.99" fill="#5c95fa"/>
<rect x="220.16" y="849.76" width="8.9" height="9.99" fill="#5c95fa"/>
<rect x="443.60" y="849.76" width="8.9" height="9.99" fill="#5c95fa"/>
<rect x="539.36" y="849.76" width="8.9" height="9.99" fill="#5c95fa"/>
<rect x="550.00" y="849.76" width="8.9" height="9.99" fill="#5c95fa"/>
<rect x="560.64" y="849.76" width="8.9" height="9.99" fill="#5c95fa"/>
<rect x="592.56" y="849.76" width="8.9" height="9.99" fill="#5c95fa"/>
<rect x="603.20" y="849.76" width="8.9" height="9.99" fill="#5c95fa"/>
<rect x="624.48" y="849.76" width="8.9" height="9.99" fill="#5c95fa"/>
<rect x="645.76" y="849.76" width="8.9" height="9.99" fill="#5c95fa"/>
<rect x="273.36" y="859.74" width="8.9" height="9.99" fill="#5c95fa"/>
<rect x="305.28" y="859.74" width="8.9" height="9.99" fill="#5c95fa"/>
<rect x="443.60" y="859.74" width="8.9" height="9.99" fill="#5c95fa"/>
<rect x="454.24" y="859.74" width="8.9" height="9.99" fill="#5c95fa"/>
<rect x="496.80" y="859.74" width="8.9" height="9.99" fill="#5c95fa"/>
<rect x="518.08" y="859.74" width="8.9" height="9.99" fill="#5c95fa"/>
<rect x="550.00" y="859.74" width="8.9" height="9.99" fill="#5c95fa"/>
<rect x="645.76" y="859.74" width="8.9" height="9.99" fill="#5c95fa"/>
<rect x="177.60" y="869.73" width="8.9" height="9.99" fill="#5c95fa"/>
<rect x="443.60" y="869.73" width="8.9" height="9.99" fill="#5c95fa"/>
<rect x="454.24" y="869.73" width="8.9" height="9.99" fill="#5c95fa"/>
<rect x="507.44" y="869.73" width="8.9" height="9.99" fill="#5c95fa"/>
<rect x="528.72" y="869.73" width="8.9" height="9.99" fill="#5c95fa"/>
<rect x="560.64" y="869.73" width="8.9" height="9.99" fill="#5c95fa"/>
<rect x="571.28" y="869.73" width="8.9" height="9.99" fill="#5c95fa"/>
<rect x="581.92" y="869.73" width="8.9" height="9.99" fill="#5c95fa"/>
<rect x="635.12" y="869.73" width="8.9" height="9.99" fill="#5c95fa"/>
<rect x="645.76" y="869.73" width="8.9" height="9.99" fill="#5c95fa"/>
<rect x="198.88" y="879.71" width="8.9" height="9.99" fill="#5c95fa"/>
<rect x="454.24" y="879.71" width="8.9" height="9.99" fill="#5c95fa"/>
<rect x="550.00" y="879.71" width="8.9" height="9.99" fill="#5c95fa"/>
<rect x="613.84" y="879.71" width="8.9" height="9.99" fill="#5c95fa"/>
<rect x="635.12" y="879.71" width="8.9" height="9.99" fill="#5c95fa"/>
<rect x="645.76" y="879.71" width="8.9" height="9.99" fill="#5c95fa"/>
<rect x="401.04" y="889.70" width="8.9" height="9.99" fill="#5c95fa"/>
<rect x="443.60" y="889.70" width="8.9" height="9.99" fill="#5c95fa"/>
<rect x="454.24" y="889.70" width="8.9" height="9.99" fill="#5c95fa"/>
<rect x="518.08" y="889.70" width="8.9" height="9.99" fill="#5c95fa"/>
<rect x="550.00" y="889.70" width="8.9" height="9.99" fill="#5c95fa"/>
<rect x="294.64" y="899.69" width="8.9" height="9.99" fill="#5c95fa"/>
<rect x="443.60" y="899.69" width="8.9" height="9.99" fill="#5c95fa"/>
<rect x="454.24" y="899.69" width="8.9" height="9.99" fill="#5c95fa"/>
<rect x="518.08" y="899.69" width="8.9" height="9.99" fill="#5c95fa"/>
<rect x="550.00" y="899.69" width="8.9" height="9.99" fill="#5c95fa"/>
<rect x="401.04" y="909.67" width="8.9" height="9.99" fill="#5c95fa"/>
<rect x="443.60" y="909.67" width="8.9" height="9.99" fill="#5c95fa"/>
<rect x="454.24" y="909.67" width="8.9" height="9.99" fill="#5c95fa"/>
<rect x="518.08" y="909.67" width="8.9" height="9.99" fill="#5c95fa"/>
<rect x="550.00" y="909.67" width="8.9" height="9.99" fill="#5c95fa"/>
<rect x="539.36" y="919.66" width="8.9" height="9.99" fill="#5c95fa"/>
<rect x="550.00" y="919.66" width="8.9" height="9.99" fill="#5c95fa"/>
<rect x="571.28" y="919.66" width="8.9" height="9.99" fill="#5c95fa"/>
<rect x="581.92" y="919.66" width="8.9" height="9.99" fill="#5c95fa"/>
<rect x="539.36" y="929.64" width="8.9" height="9.99" fill="#5c95fa"/>
<rect x="645.76" y="929.64" width="8.9" height="9.99" fill="#5c95fa"/>
<rect x="550.00" y="939.63" width="8.9" height="9.99" fill="#5c95fa"/>
<rect x="198.88" y="949.61" width="8.9" height="9.99" fill="#5c95fa"/>
<rect x="443.60" y="949.61" width="8.9" height="9.99" fill="#5c95fa"/>
<rect x="454.24" y="949.61" width="8.9" height="9.99" fill="#5c95fa"/>
<rect x="550.00" y="949.61" width="8.9" height="9.99" fill="#5c95fa"/>
<rect x="613.84" y="949.61" width="8.9" height="9.99" fill="#5c95fa"/>
<rect x="645.76" y="949.61" width="8.9" height="9.99" fill="#5c95fa"/>
<rect x="198.88" y="959.60" width="8.9" height="9.99" fill="#5c95fa"/>
<rect x="443.60" y="959.60" width="8.9" height="9.99" fill="#5c95fa"/>
<rect x="454.24" y="959.60" width="8.9" height="9.99" fill="#5c95fa"/>
<rect x="550.00" y="959.60" width="8.9" height="9.99" fill="#5c95fa"/>
<rect x="613.84" y="959.60" width="8.9" height="9.99" fill="#5c95fa"/>
<rect x="645.76" y="959.60" width="8.9" height="9.99" fill="#5c95fa"/>
<rect x="337.20" y="969.59" width="8.9" height="9.99" fill="#5c95fa"/>
<rect x="454.24" y="969.59" width="8.9" height="9.99" fill="#5c95fa"/>
<rect x="539.36" y="969.59" width="8.9" height="9.99" fill="#5c95fa"/>
<rect x="550.00" y="969.59" width="8.9" height="9.99" fill="#5c95fa"/>
<rect x="645.76" y="969.59" width="8.9" height="9.99" fill="#5c95fa"/>
<rect x="188.24" y="979.57" width="8.9" height="9.99" fill="#5c95fa"/>
<rect x="305.28" y="979.57" width="8.9" height="9.99" fill="#5c95fa"/>
<rect x="443.60" y="979.57" width="8.9" height="9.99" fill="#5c95fa"/>
<rect x="454.24" y="979.57" width="8.9" height="9.99" fill="#5c95fa"/>
<rect x="475.52" y="979.57" width="8.9" height="9.99" fill="#5c95fa"/>
<rect x="486.16" y="979.57" width="8.9" height="9.99" fill="#5c95fa"/>
<rect x="496.80" y="979.57" width="8.9" height="9.99" fill="#5c95fa"/>
<rect x="507.44" y="979.57" width="8.9" height="9.99" fill="#5c95fa"/>
<rect x="518.08" y="979.57" width="8.9" height="9.99" fill="#5c95fa"/>
<rect x="550.00" y="979.57" width="8.9" height="9.99" fill="#5c95fa"/>
<rect x="560.64" y="979.57" width="8.9" height="9.99" fill="#5c95fa"/>
<rect x="603.20" y="979.57" width="8.9" height="9.99" fill="#5c95fa"/>
<rect x="613.84" y="979.57" width="8.9" height="9.99" fill="#5c95fa"/>
<rect x="645.76" y="979.57" width="8.9" height="9.99" fill="#5c95fa"/>
<rect x="337.20" y="989.56" width="8.9" height="9.99" fill="#5c95fa"/>
<rect x="454.24" y="989.56" width="8.9" height="9.99" fill="#5c95fa"/>
<rect x="550.00" y="989.56" width="8.9" height="9.99" fill="#5c95fa"/>
<rect x="645.76" y="989.56" width="8.9" height="9.99" fill="#5c95fa"/>
<rect x="177.60" y="999.54" width="8.9" height="9.99" fill="#5c95fa"/>
<rect x="454.24" y="999.54" width="8.9" height="9.99" fill="#5c95fa"/>
<rect x="507.44" y="999.54" width="8.9" height="9.99" fill="#5c95fa"/>
<rect x="518.08" y="999.54" width="8.9" height="9.99" fill="#5c95fa"/>
<rect x="528.72" y="999.54" width="8.9" height="9.99" fill="#5c95fa"/>
<rect x="550.00" y="999.54" width="8.9" height="9.99" fill="#5c95fa"/>
<rect x="560.64" y="999.54" width="8.9" height="9.99" fill="#5c95fa"/>
<rect x="635.12" y="999.54" width="8.9" height="9.99" fill="#5c95fa"/>
<rect x="645.76" y="999.54" width="8.9" height="9.99" fill="#5c95fa"/>
<rect x="177.60" y="1009.53" width="8.9" height="9.99" fill="#5c95fa"/>
<rect x="454.24" y="1009.53" width="8.9" height="9.99" fill="#5c95fa"/>
<rect x="507.44" y="1009.53" width="8.9" height="9.99" fill="#5c95fa"/>
<rect x="518.08" y="1009.53" width="8.9" height="9.99" fill="#5c95fa"/>
<rect x="528.72" y="1009.53" width="8.9" height="9.99" fill="#5c95fa"/>
<rect x="550.00" y="1009.53" width="8.9" height="9.99" fill="#5c95fa"/>
<rect x="560.64" y="1009.53" width="8.9" height="9.99" fill="#5c95fa"/>
<rect x="592.56" y="1009.53" width="8.9" height="9.99" fill="#5c95fa"/>
<rect x="624.48" y="1009.53" width="8.9" height="9.99" fill="#5c95fa"/>
<rect x="635.12" y="1009.53" width="8.9" height="9.99" fill="#5c95fa"/>
<rect x="645.76" y="1009.53" width="8.9" height="9.99" fill="#5c95fa"/>
<rect x="347.84" y="1019.51" width="8.9" height="9.99" fill="#5c95fa"/>
<rect x="443.60" y="1019.51" width="8.9" height="9.99" fill="#5c95fa"/>
<rect x="603.20" y="1019.51" width="8.9" height="9.99" fill="#5c95fa"/>
<rect x="645.76" y="1019.51" width="8.9" height="9.99" fill="#5c95fa"/>
<rect x="347.84" y="1029.50" width="8.9" height="9.99" fill="#5c95fa"/>
<rect x="443.60" y="1029.50" width="8.9" height="9.99" fill="#5c95fa"/>
<rect x="550.00" y="1029.50" width="8.9" height="9.99" fill="#5c95fa"/>
<rect x="560.64" y="1029.50" width="8.9" height="9.99" fill="#5c95fa"/>
<rect x="603.20" y="1029.50" width="8.9" height="9.99" fill="#5c95fa"/>
<rect x="645.76" y="1029.50" width="8.9" height="9.99" fill="#5c95fa"/>
<rect x="347.84" y="1039.49" width="8.9" height="9.99" fill="#5c95fa"/>
<rect x="443.60" y="1039.49" width="8.9" height="9.99" fill="#5c95fa"/>
<rect x="550.00" y="1039.49" width="8.9" height="9.99" fill="#5c95fa"/>
<rect x="560.64" y="1039.49" width="8.9" height="9.99" fill="#5c95fa"/>
<rect x="603.20" y="1039.49" width="8.9" height="9.99" fill="#5c95fa"/>
<rect x="645.76" y="1039.49" width="8.9" height="9.99" fill="#5c95fa"/>
<rect x="347.84" y="1049.47" width="8.9" height="9.99" fill="#5c95fa"/>
<rect x="443.60" y="1049.47" width="8.9" height="9.99" fill="#5c95fa"/>
<rect x="550.00" y="1049.47" width="8.9" height="9.99" fill="#5c95fa"/>
<rect x="560.64" y="1049.47" width="8.9" height="9.99" fill="#5c95fa"/>
<rect x="603.20" y="1049.47" width="8.9" height="9.99" fill="#5c95fa"/>
<rect x="645.76" y="1049.47" width="8.9" height="9.99" fill="#5c95fa"/>
<rect x="347.84" y="1059.46" width="8.9" height="9.99" fill="#5c95fa"/>
<rect x="443.60" y="1059.46" width="8.9" height="9.99" fill="#5c95fa"/>
<rect x="550.00" y="1059.46" width="8.9" height="9.99" fill="#5c95fa"/>
<rect x="560.64" y="1059.46" width="8.9" height="9.99" fill="#5c95fa"/>
<rect x="603.20" y="1059.46" width="8.9" height="9.99" fill="#5c95fa"/>
<rect x="645.76" y="1059.46" width="8.9" height="9.99" fill="#5c95fa"/>
<rect x="347.84" y="1069.44" width="8.9" height="9.99" fill="#5c95fa"/>
<rect x="443.60" y="1069.44" width="8.9" height="9.99" fill="#5c95fa"/>
<rect x="550.00" y="1069.44" width="8.9" height="9.99" fill="#5c95fa"/>
<rect x="560.64" y="1069.44" width="8.9" height="9.99" fill="#5c95fa"/>
<rect x="603.20" y="1069.44" width="8.9" height="9.99" fill="#5c95fa"/>
<rect x="645.76" y="1069.44" width="8.9" height="9.99" fill="#5c95fa"/>
<rect x="347.84" y="1079.43" width="8.9" height="9.99" fill="#5c95fa"/>
<rect x="443.60" y="1079.43" width="8.9" height="9.99" fill="#5c95fa"/>
<rect x="550.00" y="1079.43" width="8.9" height="9.99" fill="#5c95fa"/>
<rect x="560.64" y="1079.43" width="8.9" height="9.99" fill="#5c95fa"/>
<rect x="603.20" y="1079.43" width="8.9" height="9.99" fill="#5c95fa"/>
<rect x="645.76" y="1079.43" width="8.9" height="9.99" fill="#5c95fa"/>
<rect x="347.84" y="1089.41" width="8.9" height="9.99" fill="#5c95fa"/>
<rect x="443.60" y="1089.41" width="8.9" height="9.99" fill="#5c95fa"/>
<rect x="550.00" y="1089.41" width="8.9" height="9.99" fill="#5c95fa"/>
<rect x="560.64" y="1089.41" width="8.9" height="9.99" fill="#5c95fa"/>
<rect x="603.20" y="1089.41" width="8.9" height="9.99" fill="#5c95fa"/>
<rect x="645.76" y="1089.41" width="8.9" height="9.99" fill="#5c95fa"/>
<rect x="347.84" y="1099.40" width="8.9" height="9.99" fill="#5c95fa"/>
<rect x="443.60" y="1099.40" width="8.9" height="9.99" fill="#5c95fa"/>
<rect x="550.00" y="1099.40" width="8.9" height="9.99" fill="#5c95fa"/>
<rect x="560.64" y="1099.40" width="8.9" height="9.99" fill="#5c95fa"/>
<rect x="603.20" y="1099.40" width="8.9" height="9.99" fill="#5c95fa"/>
<rect x="645.76" y="1099.40" width="8.9" height="9.99" fill="#5c95fa"/>
<rect x="347.84" y="1109.39" width="8.9" height="9.99" fill="#5c95fa"/>
<rect x="443.60" y="1109.39" width="8.9" height="9.99" fill="#5c95fa"/>
<rect x="550.00" y="1109.39" width="8.9" height="9.99" fill="#5c95fa"/>
<rect x="560.64" y="1109.39" width="8.9" height="9.99" fill="#5c95fa"/>
<rect x="603.20" y="1109.39" width="8.9" height="9.99" fill="#5c95fa"/>
<rect x="645.76" y="1109.39" width="8.9" height="9.99" fill="#5c95fa"/>
<rect x="347.84" y="1119.37" width="8.9" height="9.99" fill="#5c95fa"/>
<rect x="443.60" y="1119.37" width="8.9" height="9.99" fill="#5c95fa"/>
<rect x="550.00" y="1119.37" width="8.9" height="9.99" fill="#5c95fa"/>
<rect x="560.64" y="1119.37" width="8.9" height="9.99" fill="#5c95fa"/>
<rect x="645.76" y="1119.37" width="8.9" height="9.99" fill="#5c95fa"/>
<rect x="347.84" y="1129.36" width="8.9" height="9.99" fill="#5c95fa"/>
<rect x="443.60" y="1129.36" width="8.9" height="9.99" fill="#5c95fa"/>
<rect x="550.00" y="1129.36" width="8.9" height="9.99" fill="#5c95fa"/>
<rect x="560.64" y="1129.36" width="8.9" height="9.99" fill="#5c95fa"/>
<rect x="603.20" y="1129.36" width="8.9" height="9.99" fill="#5c95fa"/>
<rect x="645.76" y="1129.36" width="8.9" height="9.99" fill="#5c95fa"/>
<rect x="347.84" y="1139.34" width="8.9" height="9.99" fill="#5c95fa"/>
<rect x="443.60" y="1139.34" width="8.9" height="9.99" fill="#5c95fa"/>
<rect x="550.00" y="1139.34" width="8.9" height="9.99" fill="#5c95fa"/>
<rect x="560.64" y="1139.34" width="8.9" height="9.99" fill="#5c95fa"/>
<rect x="603.20" y="1139.34" width="8.9" height="9.99" fill="#5c95fa"/>
<rect x="645.76" y="1139.34" width="8.9" height="9.99" fill="#5c95fa"/>
<rect x="347.84" y="1149.33" width="8.9" height="9.99" fill="#5c95fa"/>
<rect x="443.60" y="1149.33" width="8.9" height="9.99" fill="#5c95fa"/>
<rect x="550.00" y="1149.33" width="8.9" height="9.99" fill="#5c95fa"/>
<rect x="560.64" y="1149.33" width="8.9" height="9.99" fill="#5c95fa"/>
<rect x="603.20" y="1149.33" width="8.9" height="9.99" fill="#5c95fa"/>
<rect x="645.76" y="1149.33" width="8.9" height="9.99" fill="#5c95fa"/>
<rect x="347.84" y="1159.31" width="8.9" height="9.99" fill="#5c95fa"/>
<rect x="443.60" y="1159.31" width="8.9" height="9.99" fill="#5c95fa"/>
<rect x="550.00" y="1159.31" width="8.9" height="9.99" fill="#5c95fa"/>
<rect x="560.64" y="1159.31" width="8.9" height="9.99" fill="#5c95fa"/>
<rect x="603.20" y="1159.31" width="8.9" height="9.99" fill="#5c95fa"/>
<rect x="645.76" y="1159.31" width="8.9" height="9.99" fill="#5c95fa"/>
<rect x="347.84" y="1169.30" width="8.9" height="9.99" fill="#5c95fa"/>
<rect x="443.60" y="1169.30" width="8.9" height="9.99" fill="#5c95fa"/>
<rect x="550.00" y="1169.30" width="8.9" height="9.99" fill="#5c95fa"/>
<rect x="560.64" y="1169.30" width="8.9" height="9.99" fill="#5c95fa"/>
<rect x="603.20" y="1169.30" width="8.9" height="9.99" fill="#5c95fa"/>
<rect x="645.76" y="1169.30" width="8.9" height="9.99" fill="#5c95fa"/>
<rect x="401.04" y="1179.29" width="8.9" height="9.99" fill="#5c95fa"/>
<rect x="443.60" y="1179.29" width="8.9" height="9.99" fill="#5c95fa"/>
<rect x="454.24" y="1179.29" width="8.9" height="9.99" fill="#5c95fa"/>
<rect x="518.08" y="1179.29" width="8.9" height="9.99" fill="#5c95fa"/>
<rect x="550.00" y="1179.29" width="8.9" height="9.99" fill="#5c95fa"/>
<rect x="645.76" y="1179.29" width="8.9" height="9.99" fill="#5c95fa"/>
<rect x="411.68" y="1189.27" width="8.9" height="9.99" fill="#5c95fa"/>
<rect x="454.24" y="1189.27" width="8.9" height="9.99" fill="#5c95fa"/>
<rect x="518.08" y="1189.27" width="8.9" height="9.99" fill="#5c95fa"/>
<rect x="550.00" y="1189.27" width="8.9" height="9.99" fill="#5c95fa"/>
<rect x="645.76" y="1189.27" width="8.9" height="9.99" fill="#5c95fa"/>
<rect x="411.68" y="1199.26" width="8.9" height="9.99" fill="#5c95fa"/>
<rect x="454.24" y="1199.26" width="8.9" height="9.99" fill="#5c95fa"/>
<rect x="518.08" y="1199.26" width="8.9" height="9.99" fill="#5c95fa"/>
<rect x="550.00" y="1199.26" width="8.9" height="9.99" fill="#5c95fa"/>
<rect x="645.76" y="1199.26" width="8.9" height="9.99" fill="#5c95fa"/>
<rect x="422.32" y="1209.24" width="8.9" height="9.99" fill="#5c95fa"/>
<rect x="443.60" y="1209.24" width="8.9" height="9.99" fill="#5c95fa"/>
<rect x="454.24" y="1209.24" width="8.9" height="9.99" fill="#5c95fa"/>
<rect x="518.08" y="1209.24" width="8.9" height="9.99" fill="#5c95fa"/>
<rect x="550.00" y="1209.24" width="8.9" height="9.99" fill="#5c95fa"/>
<rect x="645.76" y="1209.24" width="8.9" height="9.99" fill="#5c95fa"/>
<rect x="294.64" y="1219.23" width="8.9" height="9.99" fill="#5c95fa"/>
<rect x="454.24" y="1219.23" width="8.9" height="9.99" fill="#5c95fa"/>
<rect x="518.08" y="1219.23" width="8.9" height="9.99" fill="#5c95fa"/>
<rect x="550.00" y="1219.23" width="8.9" height="9.99" fill="#5c95fa"/>
<rect x="645.76" y="1219.23" width="8.9" height="9.99" fill="#5c95fa"/>
<rect x="188.24" y="1229.21" width="8.9" height="9.99" fill="#5c95fa"/>
<rect x="379.76" y="1229.21" width="8.9" height="9.99" fill="#5c95fa"/>
<rect x="443.60" y="1229.21" width="8.9" height="9.99" fill="#5c95fa"/>
<rect x="454.24" y="1229.21" width="8.9" height="9.99" fill="#5c95fa"/>
<rect x="539.36" y="1229.21" width="8.9" height="9.99" fill="#5c95fa"/>
<rect x="603.20" y="1229.21" width="8.9" height="9.99" fill="#5c95fa"/>
<rect x="645.76" y="1229.21" width="8.9" height="9.99" fill="#5c95fa"/>
<rect x="401.04" y="1239.20" width="8.9" height="9.99" fill="#5c95fa"/>
<rect x="443.60" y="1239.20" width="8.9" height="9.99" fill="#5c95fa"/>
<rect x="454.24" y="1239.20" width="8.9" height="9.99" fill="#5c95fa"/>
<rect x="518.08" y="1239.20" width="8.9" height="9.99" fill="#5c95fa"/>
<rect x="539.36" y="1239.20" width="8.9" height="9.99" fill="#5c95fa"/>
<rect x="550.00" y="1239.20" width="8.9" height="9.99" fill="#5c95fa"/>
<rect x="645.76" y="1239.20" width="8.9" height="9.99" fill="#5c95fa"/>
<rect x="294.64" y="1249.19" width="8.9" height="9.99" fill="#5c95fa"/>
<rect x="422.32" y="1249.19" width="8.9" height="9.99" fill="#5c95fa"/>
<rect x="443.60" y="1249.19" width="8.9" height="9.99" fill="#5c95fa"/>
<rect x="454.24" y="1249.19" width="8.9" height="9.99" fill="#5c95fa"/>
<rect x="518.08" y="1249.19" width="8.9" height="9.99" fill="#5c95fa"/>
<rect x="539.36" y="1249.19" width="8.9" height="9.99" fill="#5c95fa"/>
<rect x="550.00" y="1249.19" width="8.9" height="9.99" fill="#5c95fa"/>
<rect x="645.76" y="1249.19" width="8.9" height="9.99" fill="#5c95fa"/>
<rect x="401.04" y="1259.17" width="8.9" height="9.99" fill="#5c95fa"/>
<rect x="443.60" y="1259.17" width="8.9" height="9.99" fill="#5c95fa"/>
<rect x="454.24" y="1259.17" width="8.9" height="9.99" fill="#5c95fa"/>
<rect x="518.08" y="1259.17" width="8.9" height="9.99" fill="#5c95fa"/>
<rect x="539.36" y="1259.17" width="8.9" height="9.99" fill="#5c95fa"/>
<rect x="550.00" y="1259.17" width="8.9" height="9.99" fill="#5c95fa"/>
<rect x="645.76" y="1259.17" width="8.9" height="9.99" fill="#5c95fa"/>
<rect x="401.04" y="1269.16" width="8.9" height="9.99" fill="#5c95fa"/>
<rect x="443.60" y="1269.16" width="8.9" height="9.99" fill="#5c95fa"/>
<rect x="454.24" y="1269.16" width="8.9" height="9.99" fill="#5c95fa"/>
<rect x="518.08" y="1269.16" width="8.9" height="9.99" fill="#5c95fa"/>
<rect x="539.36" y="1269.16" width="8.9" height="9.99" fill="#5c95fa"/>
<rect x="550.00" y="1269.16" width="8.9" height="9.99" fill="#5c95fa"/>
<rect x="645.76" y="1269.16" width="8.9" height="9.99" fill="#5c95fa"/>
<rect x="550.00" y="1279.14" width="8.9" height="9.99" fill="#5c95fa"/>
<rect x="645.76" y="1279.14" width="8.9" height="9.99" fill="#5c95fa"/>
<rect x="411.68" y="1289.13" width="8.9" height="9.99" fill="#5c95fa"/>
<rect x="454.24" y="1289.13" width="8.9" height="9.99" fill="#5c95fa"/>
<rect x="518.08" y="1289.13" width="8.9" height="9.99" fill="#5c95fa"/>
<rect x="550.00" y="1289.13" width="8.9" height="9.99" fill="#5c95fa"/>
<rect x="645.76" y="1289.13" width="8.9" height="9.99" fill="#5c95fa"/>
<rect x="294.64" y="1299.11" width="8.9" height="9.99" fill="#5c95fa"/>
<rect x="454.24" y="1299.11" width="8.9" height="9.99" fill="#5c95fa"/>
<rect x="518.08" y="1299.11" width="8.9" height="9.99" fill="#5c95fa"/>
<rect x="550.00" y="1299.11" width="8.9" height="9.99" fill="#5c95fa"/>
<rect x="645.76" y="1299.11" width="8.9" height="9.99" fill="#5c95fa"/>
<rect x="294.64" y="1309.10" width="8.9" height="9.99" fill="#5c95fa"/>
<rect x="454.24" y="1309.10" width="8.9" height="9.99" fill="#5c95fa"/>
<rect x="518.08" y="1309.10" width="8.9" height="9.99" fill="#5c95fa"/>
<rect x="550.00" y="1309.10" width="8.9" height="9.99" fill="#5c95fa"/>
<rect x="645.76" y="1309.10" width="8.9" height="9.99" fill="#5c95fa"/>
<rect x="550.00" y="1319.09" width="8.9" height="9.99" fill="#5c95fa"/>
<rect x="645.76" y="1319.09" width="8.9" height="9.99" fill="#5c95fa"/>
<rect x="454.24" y="1329.07" width="8.9" height="9.99" fill="#5c95fa"/>
<rect x="550.00" y="1329.07" width="8.9" height="9.99" fill="#5c95fa"/>
<rect x="560.64" y="1329.07" width="8.9" height="9.99" fill="#5c95fa"/>
<rect x="613.84" y="1329.07" width="8.9" height="9.99" fill="#5c95fa"/>
<rect x="645.76" y="1329.07" width="8.9" height="9.99" fill="#5c95fa"/>
<rect x="188.24" y="1339.06" width="8.9" height="9.99" fill="#5c95fa"/>
<rect x="379.76" y="1339.06" width="8.9" height="9.99" fill="#5c95fa"/>
<rect x="443.60" y="1339.06" width="8.9" height="9.99" fill="#5c95fa"/>
<rect x="454.24" y="1339.06" width="8.9" height="9.99" fill="#5c95fa"/>
<rect x="539.36" y="1339.06" width="8.9" height="9.99" fill="#5c95fa"/>
<rect x="550.00" y="1339.06" width="8.9" height="9.99" fill="#5c95fa"/>
<rect x="603.20" y="1339.06" width="8.9" height="9.99" fill="#5c95fa"/>
<rect x="645.76" y="1339.06" width="8.9" height="9.99" fill="#5c95fa"/>
<rect x="390.40" y="1349.04" width="8.9" height="9.99" fill="#5c95fa"/>
<rect x="443.60" y="1349.04" width="8.9" height="9.99" fill="#5c95fa"/>
<rect x="539.36" y="1349.04" width="8.9" height="9.99" fill="#5c95fa"/>
<rect x="550.00" y="1349.04" width="8.9" height="9.99" fill="#5c95fa"/>
<rect x="645.76" y="1349.04" width="8.9" height="9.99" fill="#5c95fa"/>
<rect x="390.40" y="1359.03" width="8.9" height="9.99" fill="#5c95fa"/>
<rect x="443.60" y="1359.03" width="8.9" height="9.99" fill="#5c95fa"/>
<rect x="539.36" y="1359.03" width="8.9" height="9.99" fill="#5c95fa"/>
<rect x="550.00" y="1359.03" width="8.9" height="9.99" fill="#5c95fa"/>
<rect x="645.76" y="1359.03" width="8.9" height="9.99" fill="#5c95fa"/>
<rect x="326.56" y="1369.01" width="8.9" height="9.99" fill="#5c95fa"/>
<rect x="337.20" y="1369.01" width="8.9" height="9.99" fill="#5c95fa"/>
<rect x="443.60" y="1369.01" width="8.9" height="9.99" fill="#5c95fa"/>
<rect x="454.24" y="1369.01" width="8.9" height="9.99" fill="#5c95fa"/>
<rect x="539.36" y="1369.01" width="8.9" height="9.99" fill="#5c95fa"/>
<rect x="550.00" y="1369.01" width="8.9" height="9.99" fill="#5c95fa"/>
<rect x="560.64" y="1369.01" width="8.9" height="9.99" fill="#5c95fa"/>
<rect x="603.20" y="1369.01" width="8.9" height="9.99" fill="#5c95fa"/>
<rect x="624.48" y="1369.01" width="8.9" height="9.99" fill="#5c95fa"/>
<rect x="645.76" y="1369.01" width="8.9" height="9.99" fill="#5c95fa"/>
<rect x="326.56" y="1379.00" width="8.9" height="9.99" fill="#5c95fa"/>
<rect x="337.20" y="1379.00" width="8.9" height="9.99" fill="#5c95fa"/>
<rect x="443.60" y="1379.00" width="8.9" height="9.99" fill="#5c95fa"/>
<rect x="454.24" y="1379.00" width="8.9" height="9.99" fill="#5c95fa"/>
<rect x="539.36" y="1379.00" width="8.9" height="9.99" fill="#5c95fa"/>
<rect x="550.00" y="1379.00" width="8.9" height="9.99" fill="#5c95fa"/>
<rect x="560.64" y="1379.00" width="8.9" height="9.99" fill="#5c95fa"/>
<rect x="603.20" y="1379.00" width="8.9" height="9.99" fill="#5c95fa"/>
<rect x="624.48" y="1379.00" width="8.9" height="9.99" fill="#5c95fa"/>
<rect x="645.76" y="1379.00" width="8.9" height="9.99" fill="#5c95fa"/>
<rect x="326.56" y="1388.99" width="8.9" height="9.99" fill="#5c95fa"/>
<rect x="337.20" y="1388.99" width="8.9" height="9.99" fill="#5c95fa"/>
<rect x="443.60" y="1388.99" width="8.9" height="9.99" fill="#5c95fa"/>
<rect x="454.24" y="1388.99" width="8.9" height="9.99" fill="#5c95fa"/>
<rect x="539.36" y="1388.99" width="8.9" height="9.99" fill="#5c95fa"/>
<rect x="550.00" y="1388.99" width="8.9" height="9.99" fill="#5c95fa"/>
<rect x="560.64" y="1388.99" width="8.9" height="9.99" fill="#5c95fa"/>
<rect x="603.20" y="1388.99" width="8.9" height="9.99" fill="#5c95fa"/>
<rect x="645.76" y="1388.99" width="8.9" height="9.99" fill="#5c95fa"/>
<rect x="326.56" y="1398.97" width="8.9" height="9.99" fill="#5c95fa"/>
<rect x="337.20" y="1398.97" width="8.9" height="9.99" fill="#5c95fa"/>
<rect x="443.60" y="1398.97" width="8.9" height="9.99" fill="#5c95fa"/>
<rect x="454.24" y="1398.97" width="8.9" height="9.99" fill="#5c95fa"/>
<rect x="539.36" y="1398.97" width="8.9" height="9.99" fill="#5c95fa"/>
<rect x="550.00" y="1398.97" width="8.9" height="9.99" fill="#5c95fa"/>
<rect x="560.64" y="1398.97" width="8.9" height="9.99" fill="#5c95fa"/>
<rect x="603.20" y="1398.97" width="8.9" height="9.99" fill="#5c95fa"/>
<rect x="645.76" y="1398.97" width="8.9" height="9.99" fill="#5c95fa"/>
<rect x="326.56" y="1408.96" width="8.9" height="9.99" fill="#5c95fa"/>
<rect x="337.20" y="1408.96" width="8.9" height="9.99" fill="#5c95fa"/>
<rect x="443.60" y="1408.96" width="8.9" height="9.99" fill="#5c95fa"/>
<rect x="454.24" y="1408.96" width="8.9" height="9.99" fill="#5c95fa"/>
<rect x="539.36" y="1408.96" width="8.9" height="9.99" fill="#5c95fa"/>
<rect x="550.00" y="1408.96" width="8.9" height="9.99" fill="#5c95fa"/>
<rect x="560.64" y="1408.96" width="8.9" height="9.99" fill="#5c95fa"/>
<rect x="603.20" y="1408.96" width="8.9" height="9.99" fill="#5c95fa"/>
<rect x="645.76" y="1408.96" width="8.9" height="9.99" fill="#5c95fa"/>
<rect x="326.56" y="1418.94" width="8.9" height="9.99" fill="#5c95fa"/>
<rect x="337.20" y="1418.94" width="8.9" height="9.99" fill="#5c95fa"/>
<rect x="443.60" y="1418.94" width="8.9" height="9.99" fill="#5c95fa"/>
<rect x="454.24" y="1418.94" width="8.9" height="9.99" fill="#5c95fa"/>
<rect x="539.36" y="1418.94" width="8.9" height="9.99" fill="#5c95fa"/>
<rect x="550.00" y="1418.94" width="8.9" height="9.99" fill="#5c95fa"/>
<rect x="560.64" y="1418.94" width="8.9" height="9.99" fill="#5c95fa"/>
<rect x="603.20" y="1418.94" width="8.9" height="9.99" fill="#5c95fa"/>
<rect x="645.76" y="1418.94" width="8.9" height="9.99" fill="#5c95fa"/>
<rect x="326.56" y="1428.93" width="8.9" height="9.99" fill="#5c95fa"/>
<rect x="337.20" y="1428.93" width="8.9" height="9.99" fill="#5c95fa"/>
<rect x="443.60" y="1428.93" width="8.9" height="9.99" fill="#5c95fa"/>
<rect x="454.24" y="1428.93" width="8.9" height="9.99" fill="#5c95fa"/>
<rect x="539.36" y="1428.93" width="8.9" height="9.99" fill="#5c95fa"/>
<rect x="550.00" y="1428.93" width="8.9" height="9.99" fill="#5c95fa"/>
<rect x="560.64" y="1428.93" width="8.9" height="9.99" fill="#5c95fa"/>
<rect x="603.20" y="1428.93" width="8.9" height="9.99" fill="#5c95fa"/>
<rect x="645.76" y="1428.93" width="8.9" height="9.99" fill="#5c95fa"/>
<rect x="326.56" y="1438.91" width="8.9" height="9.99" fill="#5c95fa"/>
<rect x="337.20" y="1438.91" width="8.9" height="9.99" fill="#5c95fa"/>
<rect x="443.60" y="1438.91" width="8.9" height="9.99" fill="#5c95fa"/>
<rect x="454.24" y="1438.91" width="8.9" height="9.99" fill="#5c95fa"/>
<rect x="539.36" y="1438.91" width="8.9" height="9.99" fill="#5c95fa"/>
<rect x="550.00" y="1438.91" width="8.9" height="9.99" fill="#5c95fa"/>
<rect x="560.64" y="1438.91" width="8.9" height="9.99" fill="#5c95fa"/>
<rect x="603.20" y="1438.91" width="8.9" height="9.99" fill="#5c95fa"/>
<rect x="645.76" y="1438.91" width="8.9" height="9.99" fill="#5c95fa"/>
<rect x="326.56" y="1448.90" width="8.9" height="9.99" fill="#5c95fa"/>
<rect x="337.20" y="1448.90" width="8.9" height="9.99" fill="#5c95fa"/>
<rect x="443.60" y="1448.90" width="8.9" height="9.99" fill="#5c95fa"/>
<rect x="454.24" y="1448.90" width="8.9" height="9.99" fill="#5c95fa"/>
<rect x="539.36" y="1448.90" width="8.9" height="9.99" fill="#5c95fa"/>
<rect x="550.00" y="1448.90" width="8.9" height="9.99" fill="#5c95fa"/>
<rect x="560.64" y="1448.90" width="8.9" height="9.99" fill="#5c95fa"/>
<rect x="603.20" y="1448.90" width="8.9" height="9.99" fill="#5c95fa"/>
<rect x="645.76" y="1448.90" width="8.9" height="9.99" fill="#5c95fa"/>
<rect x="326.56" y="1458.89" width="8.9" height="9.99" fill="#5c95fa"/>
<rect x="337.20" y="1458.89" width="8.9" height="9.99" fill="#5c95fa"/>
<rect x="443.60" y="1458.89" width="8.9" height="9.99" fill="#5c95fa"/>
<rect x="454.24" y="1458.89" width="8.9" height="9.99" fill="#5c95fa"/>
<rect x="539.36" y="1458.89" width="8.9" height="9.99" fill="#5c95fa"/>
<rect x="550.00" y="1458.89" width="8.9" height="9.99" fill="#5c95fa"/>
<rect x="560.64" y="1458.89" width="8.9" height="9.99" fill="#5c95fa"/>
<rect x="603.20" y="1458.89" width="8.9" height="9.99" fill="#5c95fa"/>
<rect x="645.76" y="1458.89" width="8.9" height="9.99" fill="#5c95fa"/>
<path d="M177.60 110.82H654.66M177.60 120.80H654.66M177.60 130.79H654.66M177.60 140.77H654.66M177.60 150.76H654.66M177.60 160.74H654.66M177.60 170.73H654.66M177.60 180.72H654.66M177.60 190.70H654.66M177.60 200.69H654.66M177.60 210.67H654.66M177.60 220.66H654.66M177.60 230.64H654.66M177.60 240.63H654.66M177.60 250.62H654.66M177.60 260.60H654.66M177.60 270.59H654.66M177.60 280.57H654.66M177.60 290.56H654.66M177.60 300.54H654.66M177.60 310.53H654.66M177.60 320.52H654.66M177.60 330.50H654.66M177.60 340.49H654.66M177.60 350.47H654.66M177.60 360.46H654.66M177.60 370.44H654.66M177.60 380.43H654.66M177.60 390.42H654.66M177.60 400.40H654.66M177.60 410.39H654.66M177.60 420.37H654.66M177.60 430.36H654.66M177.60 440.34H654.66M177.60 450.33H654.66M177.60 460.32H654.66M177.60 470.30H654.66M177.60 480.29H654.66M177.60 490.27H654.66M177.60 500.26H654.66M177.60 510.24H654.66M177.60 520.23H654.66M177.60 530.22H654.66M177.60 540.20H654.66M177.60 550.19H654.66M177.60 560.17H654.66M177.60 570.16H654.66M177.60 580.14H654.66M177.60 590.13H654.66M177.60 600.12H654.66M177.60 610.10H654.66M177.60 620.09H654.66M177.60 630.07H654.66M177.60 640.06H654.66M177.60 650.04H654.66M177.60 660.03H654.66M177.60 670.01H654.66M177.60 680.00H654.66M177.60 689.99H654.66M177.60 699.97H654.66M177.60 709.96H654.66M177.60 719.94H654.66M177.60 729.93H654.66M177.60 739.91H654.66M177.60 749.90H654.66M177.60 759.89H654.66M177.60 769.87H654.66M177.60 779.86H654.66M177.60 789.84H654.66M177.60 799.83H654.66M177.60 809.81H654.66M177.60 819.80H654.66M177.60 829.79H654.66M177.60 839.77H654.66M177.60 849.76H654.66M177.60 859.74H654.66M177.60 869.73H654.66M177.60 879.71H654.66M177.60 889.70H654.66M177.60 899.69H654.66M177.60 909.67H654.66M177.60 919.66H654.66M177.60 929.64H654.66M177.60 939.63H654.66M177.60 949.61H654.66M177.60 959.60H654.66M177.60 969.59H654.66M177.60 979.57H654.66M177.60 989.56H654.66M177.60 999.54H654.66M177.60 1009.53H654.66M177.60 1019.51H654.66M177.60 1029.50H654.66M177.60 1039.49H654.66M177.60 1049.47H654.66M177.60 1059.46H654.66M177.60 1069.44H654.66M177.60 1079.43H654.66M177.60 1089.41H654.66M177.60 1099.40H654.66M177.60 1109.39H654.66M177.60 1119.37H654.66M177.60 1129.36H654.66M177.60 1139.34H654.66M177.60 1149.33H654.66M177.60 1159.31H654.66M177.60 1169.30H654.66M177.60 1179.29H654.66M177.60 1189.27H654.66M177.60 1199.26H654.66M177.60 1209.24H654.66M177.60 1219.23H654.66M177.60 1229.21H654.66M177.60 1239.20H654.66M177.60 1249.19H654.66M177.60 1259.17H654.66M177.60 1269.16H654.66M177.60 1279.14H654.66M177.60 1289.13H654.66M177.60 1299.11H654.66M177.60 1309.10H654.66M177.60 1319.09H654.66M177.60 1329.07H654.66M177.60 1339.06H654.66M177.60 1349.04H654.66M177.60 1359.03H654.66M177.60 1369.01H654.66M177.60 1379.00H654.66M177.60 1388.99H654.66M177.60 1398.97H654.66M177.60 1408.96H654.66M177.60 1418.94H654.66M177.60 1428.93H654.66M177.60 1438.91H654.66M177.60 1448.90H654.66M177.60 1458.89H654.66" fill="none" stroke="#626262" stroke-width="1.3" stroke-dasharray="8.9 1.74"/>
<path d="M177.60 100.93H654.66" fill="none" stroke="#8a8a8a" stroke-width="0.8" stroke-dasharray="8.9 1.74"/>
<path d="M187.37 101.28V1468.87M198.01 101.28V1468.87M208.65 101.28V1468.87M219.29 101.28V1468.87M229.93 101.28V1468.87M240.57 101.28V1468.87M251.21 101.28V1468.87M261.85 101.28V1468.87M272.49 101.28V1468.87M283.13 101.28V1468.87M293.77 101.28V1468.87M304.41 101.28V1468.87M315.05 101.28V1468.87M325.69 101.28V1468.87M336.33 101.28V1468.87M346.97 101.28V1468.87M357.61 101.28V1468.87M368.25 101.28V1468.87M378.89 101.28V1468.87M389.53 101.28V1468.87M400.17 101.28V1468.87M410.81 101.28V1468.87M421.45 101.28V1468.87M432.09 101.28V1468.87M442.73 101.28V1468.87M453.37 101.28V1468.87M464.01 101.28V1468.87M474.65 101.28V1468.87M485.29 101.28V1468.87M495.93 101.28V1468.87M506.57 101.28V1468.87M517.21 101.28V1468.87M527.85 101.28V1468.87M538.49 101.28V1468.87M549.13 101.28V1468.87M559.77 101.28V1468.87M570.41 101.28V1468.87M581.05 101.28V1468.87M591.69 101.28V1468.87M602.33 101.28V1468.87M612.97 101.28V1468.87M623.61 101.28V1468.87M634.25 101.28V1468.87M644.89 101.28V1468.87" fill="none" stroke="#d2d2d2" stroke-width="1.3" stroke-dasharray="8.986 1.0"/>
<path d="M177.75 101.28V1468.87M186.35 101.28V1468.87M188.39 101.28V1468.87M196.99 101.28V1468.87M199.03 101.28V1468.87M207.63 101.28V1468.87M209.67 101.28V1468.87M218.27 101.28V1468.87M220.31 101.28V1468.87M228.91 101.28V1468.87M230.95 101.28V1468.87M239.55 101.28V1468.87M241.59 101.28V1468.87M250.19 101.28V1468.87M252.23 101.28V1468.87M260.83 101.28V1468.87M262.87 101.28V1468.87M271.47 101.28V1468.87M273.51 101.28V1468.87M282.11 101.28V1468.87M284.15 101.28V1468.87M292.75 101.28V1468.87M294.79 101.28V1468.87M303.39 101.28V1468.87M305.43 101.28V1468.87M314.03 101.28V1468.87M316.07 101.28V1468.87M324.67 101.28V1468.87M326.71 101.28V1468.87M335.31 101.28V1468.87M337.35 101.28V1468.87M345.95 101.28V1468.87M347.99 101.28V1468.87M356.59 101.28V1468.87M358.63 101.28V1468.87M367.23 101.28V1468.87M369.27 101.28V1468.87M377.87 101.28V1468.87M379.91 101.28V1468.87M388.51 101.28V1468.87M390.55 101.28V1468.87M399.15 101.28V1468.87M401.19 101.28V1468.87M409.79 101.28V1468.87M411.83 101.28V1468.87M420.43 101.28V1468.87M422.47 101.28V1468.87M431.07 101.28V1468.87M433.11 101.28V1468.87M441.71 101.28V1468.87M443.75 101.28V1468.87M452.35 101.28V1468.87M454.39 101.28V1468.87M462.99 101.28V1468.87M465.03 101.28V1468.87M473.63 101.28V1468.87M475.67 101.28V1468.87M484.27 101.28V1468.87M486.31 101.28V1468.87M494.91 101.28V1468.87M496.95 101.28V1468.87M505.55 101.28V1468.87M507.59 101.28V1468.87M516.19 101.28V1468.87M518.23 101.28V1468.87M526.83 101.28V1468.87M528.87 101.28V1468.87M537.47 101.28V1468.87M539.51 101.28V1468.87M548.11 101.28V1468.87M550.15 101.28V1468.87M558.75 101.28V1468.87M560.79 101.28V1468.87M569.39 101.28V1468.87M571.43 101.28V1468.87M580.03 101.28V1468.87M582.07 101.28V1468.87M590.67 101.28V1468.87M592.71 101.28V1468.87M601.31 101.28V1468.87M603.35 101.28V1468.87M611.95 101.28V1468.87M613.99 101.28V1468.87M622.59 101.28V1468.87M624.63 101.28V1468.87M633.23 101.28V1468.87M635.27 101.28V1468.87M643.87 101.28V1468.87M645.91 101.28V1468.87M654.51 101.28V1468.87" fill="none" stroke="#6c6c6c" stroke-width="0.55" stroke-dasharray="8.986 1.0"/>
<path d="M177.1 1468V41.6H654.9V1468M442.3 41.6V1468" fill="none" stroke="#000" stroke-width="1.6"/>
<text x="299.2" y="53.9" font-size="9.85" font-weight="bold" text-anchor="middle">Colonization factors</text>
<text x="557.4" y="53.9" font-size="9.9" font-weight="bold" text-anchor="middle">Virulence factors</text>
<text transform="translate(185.20 99.9) rotate(-90)" font-size="9.75">CFA/I</text>
<text transform="translate(195.84 99.9) rotate(-90)" font-size="9.75">CS1</text>
<text transform="translate(206.48 99.9) rotate(-90)" font-size="9.75">CS14</text>
<text transform="translate(217.12 99.9) rotate(-90)" font-size="9.75">CS15</text>
<text transform="translate(227.76 99.9) rotate(-90)" font-size="9.75">CS17</text>
<text transform="translate(238.40 99.9) rotate(-90)" font-size="9.75">CS18</text>
<text transform="translate(249.04 99.9) rotate(-90)" font-size="9.75">CS19</text>
<text transform="translate(259.68 99.9) rotate(-90)" font-size="9.75">CS2</text>
<text transform="translate(270.32 99.9) rotate(-90)" font-size="9.75">CS20</text>
<text transform="translate(280.96 99.9) rotate(-90)" font-size="9.75">CS21</text>
<text transform="translate(291.60 99.9) rotate(-90)" font-size="9.75">CS22</text>
<text transform="translate(302.24 99.9) rotate(-90)" font-size="9.75">CS23</text>
<text transform="translate(312.88 99.9) rotate(-90)" font-size="9.75">CS3</text>
<text transform="translate(323.52 99.9) rotate(-90)" font-size="9.75">CS4</text>
<text transform="translate(334.16 99.9) rotate(-90)" font-size="9.75">CS5</text>
<text transform="translate(344.80 99.9) rotate(-90)" font-size="9.75">CS6</text>
<text transform="translate(355.44 99.9) rotate(-90)" font-size="9.75">CS7</text>
<text transform="translate(366.08 99.9) rotate(-90)" font-size="9.75">CS8</text>
<text transform="translate(376.72 99.9) rotate(-90)" font-size="9.75">PCF071</text>
<text transform="translate(387.36 99.9) rotate(-90)" font-size="9.75">pcf_b02</text>
<text transform="translate(398.00 99.9) rotate(-90)" font-size="9.75">pcf_b03</text>
<text transform="translate(408.64 99.9) rotate(-90)" font-size="9.75">pcf_b04</text>
<text transform="translate(419.28 99.9) rotate(-90)" font-size="9.75">pcf_b05</text>
<text transform="translate(429.92 99.9) rotate(-90)" font-size="9.75">pcf_b06</text>
<text transform="translate(440.56 99.9) rotate(-90)" font-size="9.75">pcf_b07</text>
<text transform="translate(451.20 99.9) rotate(-90)" font-size="9.75" font-style="italic">eltA</text>
<text transform="translate(461.84 99.9) rotate(-90)" font-size="9.75">sth</text>
<text transform="translate(472.48 99.9) rotate(-90)" font-size="9.75">stp</text>
<text transform="translate(483.12 99.9) rotate(-90)" font-size="9.75" font-style="italic">aatA</text>
<text transform="translate(493.76 99.9) rotate(-90)" font-size="9.75" font-style="italic">aatB</text>
<text transform="translate(504.40 99.9) rotate(-90)" font-size="9.75" font-style="italic">aatC</text>
<text transform="translate(515.04 99.9) rotate(-90)" font-size="9.75" font-style="italic">aatD</text>
<text transform="translate(525.68 99.9) rotate(-90)" font-size="9.75">astA</text>
<text transform="translate(536.32 99.9) rotate(-90)" font-size="9.75" font-style="italic">cexE</text>
<text transform="translate(546.96 99.9) rotate(-90)" font-size="9.75">clyA</text>
<text transform="translate(557.60 99.9) rotate(-90)" font-size="9.75" font-style="italic">eaeH</text>
<text transform="translate(568.24 99.9) rotate(-90)" font-size="9.75" font-style="italic">eatA</text>
<text transform="translate(578.88 99.9) rotate(-90)" font-size="9.75" font-style="italic">fyuA</text>
<text transform="translate(589.52 99.9) rotate(-90)" font-size="9.75">irp2</text>
<text transform="translate(600.16 99.9) rotate(-90)" font-size="9.75" font-style="italic">leoA</text>
<text transform="translate(610.80 99.9) rotate(-90)" font-size="9.75" font-style="italic">peaR</text>
<text transform="translate(621.44 99.9) rotate(-90)" font-size="9.75">rns</text>
<text transform="translate(632.08 99.9) rotate(-90)" font-size="9.75">tia</text>
<text transform="translate(642.72 99.9) rotate(-90)" font-size="9.75" font-style="italic">tibA</text>
<text transform="translate(653.36 99.9) rotate(-90)" font-size="9.75" font-style="italic">yghJ</text>
<rect x="20.8" y="660.6" width="650.9" height="79.1" fill="none" stroke="#ff8c1a" stroke-width="2.4"/>
<rect x="20.8" y="999.7" width="650.9" height="178.8" fill="none" stroke="#ff8c1a" stroke-width="2.4"/>
<rect x="20.8" y="1350.3" width="650.9" height="118.2" fill="none" stroke="#ff8c1a" stroke-width="2.4"/>
<text x="27.6" y="700.5" font-size="13.1" font-weight="bold">group 2</text>
<text x="23.1" y="1093.3" font-size="13.1" font-weight="bold">group 3</text>
<text x="23.1" y="1414.5" font-size="13.1" font-weight="bold">group 1</text>
<text x="71.7" y="160.3" font-size="14.3">B2</text>
<text x="71.7" y="231.5" font-size="14.3">E</text>
<text x="81.3" y="350.5" font-size="14.3">A</text>
<text x="72.5" y="869" font-size="14.3">B1</text>
<text x="42.9" y="576.2" font-size="8.45" fill="#222">H10407</text>
</svg></body></html>
